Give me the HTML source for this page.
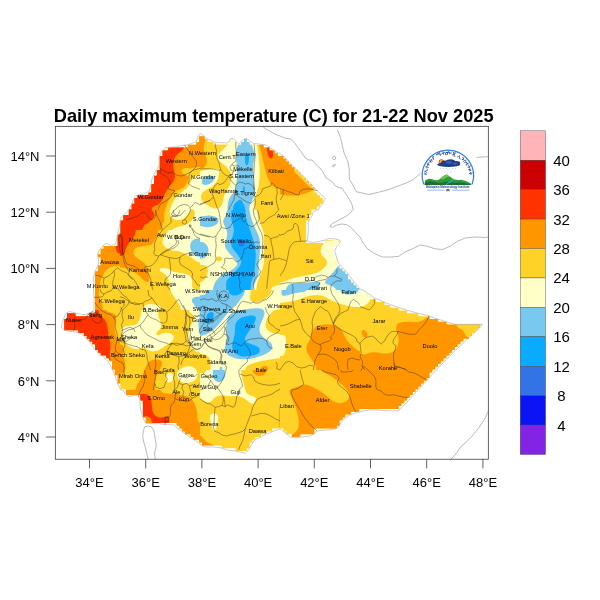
<!DOCTYPE html><html><head><meta charset="utf-8"><title>Daily maximum temperature</title>
<style>html,body{margin:0;padding:0;background:#fff}svg{display:block}text{font-family:"Liberation Sans",sans-serif;fill:#000}</style></head><body>
<svg width="600" height="600" viewBox="0 0 600 600">
<rect width="600" height="600" fill="#fff"/>
<g id="map">
<path d="M100.7,251.6 100.7,254.3 97.9,254.3 97.9,257.2 100.7,257.2 100.7,260.0 100.7,260.0 100.7,262.8 100.7,262.8 100.7,265.6 97.9,265.6 97.9,268.4 97.9,268.4 97.9,271.2 95.1,271.2 95.1,274.0 95.1,274.0 95.1,276.8 95.1,276.9 95.1,279.6 95.1,279.7 95.1,282.4 95.1,282.5 95.1,285.2 95.1,285.3 95.1,288.1 95.1,288.1 95.1,290.9 95.1,290.9 95.1,293.7 95.1,293.7 95.1,296.5 95.1,296.5 95.1,299.3 95.1,299.3 95.1,302.1 95.1,302.1 95.1,304.9 95.1,305.0 95.1,307.7 95.1,307.8 95.1,310.5 95.1,310.6 95.1,313.3 92.3,313.3 92.3,313.3 89.5,313.3 89.5,316.2 86.7,316.2 86.7,316.2 83.9,316.2 83.9,316.2 81.1,316.2 81.1,316.2 78.3,316.2 78.2,316.2 75.5,316.2 75.5,313.3 72.7,313.3 72.6,313.3 69.9,313.3 69.8,313.3 67.0,313.3 67.0,316.2 67.0,316.2 67.0,319.0 64.2,319.0 64.2,321.8 64.2,321.8 64.2,324.6 64.2,324.6 64.2,327.4 64.2,327.4 64.2,330.2 67.0,330.2 67.0,330.2 69.8,330.2 69.9,330.2 72.6,330.2 72.7,330.2 75.4,330.2 75.5,330.2 78.2,330.2 78.2,333.1 81.1,333.1 81.1,333.1 83.9,333.1 83.9,335.9 86.7,335.9 86.7,338.7 89.5,338.7 89.5,341.5 92.3,341.5 92.3,344.3 95.1,344.3 95.1,347.1 95.1,347.1 95.1,349.9 97.9,349.9 97.9,352.7 100.7,352.7 100.7,355.5 103.5,355.5 103.6,355.5 106.3,355.5 106.3,358.3 109.2,358.3 109.2,361.2 112.0,361.2 112.0,363.9 112.0,364.0 112.0,366.7 112.0,366.8 112.0,369.6 114.8,369.6 114.8,372.4 114.8,372.4 114.8,375.2 117.6,375.2 117.6,378.0 117.6,378.0 117.6,380.8 117.6,380.8 117.6,383.6 120.4,383.6 120.4,386.4 120.4,386.4 120.4,389.3 123.2,389.3 123.2,389.3 126.0,389.3 126.0,392.0 126.0,392.1 126.0,394.9 128.8,394.9 128.9,394.9 131.6,394.9 131.7,394.9 134.4,394.9 134.5,394.9 137.3,394.9 137.3,394.9 140.1,394.9 140.1,397.6 140.1,397.7 140.1,400.5 142.9,400.5 142.9,403.3 142.9,403.3 142.9,406.1 142.9,406.1 142.9,408.9 142.9,408.9 142.9,411.7 142.9,411.7 142.9,414.5 142.9,414.5 142.9,417.4 145.7,417.4 145.7,420.1 145.7,420.2 145.7,423.0 148.5,423.0 148.5,423.0 151.3,423.0 151.3,423.0 154.1,423.0 154.2,423.0 156.9,423.0 157.0,423.0 159.7,423.0 159.8,423.0 162.5,423.0 162.6,423.0 165.4,423.0 165.4,423.0 168.2,423.0 168.2,423.0 171.0,423.0 171.0,423.0 173.8,423.0 173.8,423.0 176.6,423.0 176.6,425.8 179.4,425.8 179.4,428.6 182.2,428.6 182.2,431.4 185.0,431.4 185.0,434.2 187.8,434.2 187.9,434.2 190.6,434.2 190.6,437.0 193.5,437.0 193.5,439.8 196.3,439.8 196.3,439.8 199.1,439.8 199.1,442.6 201.9,442.6 201.9,445.4 204.7,445.4 204.7,445.4 207.5,445.4 207.5,445.4 210.3,445.4 210.4,445.4 213.1,445.4 213.2,445.4 215.9,445.4 216.0,445.4 218.7,445.4 218.8,445.4 221.6,445.4 221.6,448.3 224.4,448.3 224.4,448.3 227.2,448.3 227.2,448.3 230.0,448.3 230.0,448.3 232.8,448.3 232.8,448.3 235.6,448.3 235.6,451.1 238.4,451.1 238.5,451.1 241.2,451.1 241.3,451.1 244.0,451.1 244.1,451.1 246.9,451.1 246.9,448.3 249.7,448.3 249.7,445.4 249.7,445.4 249.7,442.6 252.5,442.6 252.5,439.8 255.3,439.8 255.3,437.0 258.1,437.0 258.1,437.0 260.9,437.0 260.9,434.2 263.7,434.2 263.7,434.2 266.6,434.2 266.6,431.4 269.3,431.4 269.4,431.4 272.2,431.4 272.2,428.6 274.9,428.6 275.0,428.6 277.8,428.6 277.8,428.6 280.6,428.6 280.6,428.6 283.4,428.6 283.4,431.4 286.2,431.4 286.2,434.2 289.0,434.2 289.0,434.2 291.8,434.2 291.8,437.0 294.6,437.0 294.7,437.0 297.4,437.0 297.5,437.0 300.3,437.0 300.3,434.2 303.0,434.2 303.1,434.2 305.9,434.2 305.9,434.2 308.7,434.2 308.7,434.2 311.5,434.2 311.5,434.2 314.3,434.2 314.3,431.4 314.3,431.4 314.3,428.6 317.1,428.6 317.1,428.6 319.9,428.6 319.9,428.6 322.7,428.6 322.8,428.6 325.5,428.6 325.6,428.6 328.3,428.6 328.4,428.6 331.1,428.6 331.2,428.6 334.0,428.6 334.0,428.6 336.8,428.6 336.8,425.8 339.6,425.8 339.6,423.0 339.6,422.9 339.6,420.2 342.4,420.2 342.4,417.4 345.2,417.4 345.2,414.5 348.0,414.5 348.0,414.5 350.9,414.5 350.9,411.7 353.6,411.7 353.7,411.7 356.4,411.7 356.5,411.7 359.3,411.7 359.3,408.9 362.1,408.9 362.1,408.9 364.9,408.9 364.9,408.9 367.7,408.9 367.7,408.9 370.5,408.9 370.5,408.9 373.3,408.9 373.3,408.9 376.1,408.9 376.1,408.9 378.9,408.9 379.0,408.9 381.7,408.9 381.8,408.9 384.5,408.9 384.6,408.9 387.3,408.9 387.4,408.9 390.2,408.9 390.2,408.9 393.0,408.9 393.0,408.9 395.8,408.9 395.8,408.9 398.6,408.9 398.6,406.1 401.4,406.1 401.4,403.3 404.2,403.3 404.2,400.5 407.1,400.5 407.1,397.7 409.9,397.7 409.9,394.9 412.7,394.9 412.7,392.1 415.5,392.1 415.5,389.3 418.3,389.3 418.3,386.4 421.1,386.4 421.1,383.6 423.9,383.6 423.9,380.8 426.7,380.8 426.7,378.0 429.5,378.0 429.5,375.2 429.5,375.2 429.5,372.4 432.3,372.4 432.3,369.6 435.2,369.6 435.2,366.8 438.0,366.8 438.0,364.0 440.8,364.0 440.8,361.2 443.6,361.2 443.6,358.3 446.4,358.3 446.4,355.5 449.2,355.5 449.2,352.7 452.0,352.7 452.0,349.9 454.8,349.9 454.8,347.1 457.6,347.1 457.6,344.3 460.4,344.3 460.4,341.5 463.3,341.5 463.3,338.7 466.0,338.7 466.1,338.7 468.9,338.7 468.9,335.9 471.7,335.9 471.7,333.1 474.5,333.1 474.5,330.2 477.3,330.2 477.3,327.4 480.1,327.4 480.1,324.6 477.3,324.6 477.3,324.6 474.5,324.6 474.5,324.6 471.7,324.6 471.6,324.6 468.9,324.6 468.8,324.6 466.1,324.6 466.0,324.6 463.3,324.6 463.2,324.6 460.4,324.6 460.4,324.6 457.6,324.6 457.6,324.6 454.8,324.6 454.8,324.6 452.0,324.6 452.0,324.6 449.2,324.6 449.2,324.6 446.4,324.6 446.4,321.8 443.6,321.8 443.5,321.8 440.8,321.8 440.7,321.8 438.0,321.8 438.0,319.0 435.2,319.0 435.1,319.0 432.3,319.0 432.3,319.0 429.5,319.0 429.5,316.2 426.7,316.2 426.7,316.2 423.9,316.2 423.9,316.2 421.1,316.2 421.1,316.2 418.3,316.2 418.3,313.3 415.5,313.3 415.4,313.3 412.7,313.3 412.6,313.3 409.9,313.3 409.8,313.3 407.1,313.3 407.1,310.5 404.2,310.5 404.2,310.5 401.4,310.5 401.4,310.5 398.6,310.5 398.6,307.7 395.8,307.7 395.8,307.7 393.0,307.7 393.0,307.7 390.2,307.7 390.2,304.9 387.4,304.9 387.3,304.9 384.6,304.9 384.6,302.1 381.8,302.1 381.7,302.1 379.0,302.1 378.9,302.1 376.1,302.1 376.1,299.3 373.3,299.3 373.3,299.3 370.5,299.3 370.5,296.5 367.7,296.5 367.7,293.7 364.9,293.7 364.9,290.9 362.1,290.9 362.1,290.9 359.3,290.9 359.3,288.1 356.5,288.1 356.5,285.2 353.7,285.2 353.7,282.4 350.9,282.4 350.9,279.6 348.0,279.6 348.0,276.9 348.0,276.8 348.0,274.0 345.2,274.0 345.2,271.2 342.4,271.2 342.4,268.4 339.6,268.4 339.6,265.6 336.8,265.6 336.8,262.8 336.8,262.8 336.8,260.0 336.8,260.0 336.8,257.1 334.0,257.1 334.0,254.4 334.0,254.3 334.0,251.6 334.0,251.5 334.0,248.8 334.0,248.7 334.0,245.9 336.8,245.9 336.8,243.1 339.6,243.1 339.6,240.3 336.8,240.3 336.8,240.3 334.0,240.3 334.0,240.3 331.2,240.3 331.1,240.3 328.4,240.3 328.3,240.3 325.5,240.3 325.5,243.1 322.8,243.1 322.7,243.1 319.9,243.1 319.9,243.1 317.1,243.1 317.1,243.1 314.3,243.1 314.3,243.1 311.5,243.1 311.5,243.1 308.7,243.1 308.7,243.1 305.9,243.1 305.9,240.3 305.9,240.3 305.9,237.5 305.9,237.5 305.9,234.7 305.9,234.7 305.9,231.9 305.9,231.9 305.9,229.1 305.9,229.0 305.9,226.3 305.9,226.2 305.9,223.5 305.9,223.4 305.9,220.7 308.7,220.7 308.7,217.8 308.7,217.8 308.7,215.0 311.5,215.0 311.5,212.2 311.5,212.2 311.5,209.4 314.3,209.4 314.3,209.4 317.1,209.4 317.1,206.6 319.9,206.6 319.9,203.8 322.8,203.8 322.8,201.0 322.8,200.9 322.8,198.1 319.9,198.1 319.9,195.3 317.1,195.3 317.1,192.5 314.3,192.5 314.3,189.7 314.3,189.7 314.3,186.9 311.5,186.9 311.5,184.1 308.7,184.1 308.7,181.3 305.9,181.3 305.9,178.5 303.1,178.5 303.1,175.7 300.3,175.7 300.3,172.8 297.5,172.8 297.5,170.0 294.7,170.0 294.7,167.2 291.8,167.2 291.8,164.4 289.0,164.4 289.0,161.6 286.2,161.6 286.2,158.8 283.4,158.8 283.4,156.0 280.6,156.0 280.6,156.0 277.8,156.0 277.8,153.2 275.0,153.2 275.0,150.4 272.2,150.4 272.1,150.4 269.4,150.4 269.4,147.6 266.6,147.6 266.5,147.6 263.7,147.6 263.7,144.7 260.9,144.7 260.9,144.7 258.1,144.7 258.1,144.7 255.3,144.7 255.3,144.7 252.5,144.7 252.5,144.7 249.7,144.7 249.7,141.9 246.9,141.9 246.9,139.1 244.0,139.1 244.0,141.9 241.2,141.9 241.2,144.7 238.5,144.7 238.4,144.7 235.6,144.7 235.6,141.9 232.8,141.9 232.8,139.1 230.0,139.1 230.0,141.9 230.0,142.0 230.0,144.7 227.2,144.7 227.2,144.7 224.4,144.7 224.4,144.7 221.6,144.7 221.6,144.7 218.8,144.7 218.7,144.7 216.0,144.7 215.9,144.7 213.2,144.7 213.2,141.9 210.4,141.9 210.3,141.9 207.5,141.9 207.5,139.1 204.7,139.1 204.7,136.3 201.9,136.3 201.9,136.3 199.1,136.3 199.1,139.1 199.1,139.2 199.1,141.9 196.3,141.9 196.3,144.7 193.5,144.7 193.5,144.7 190.7,144.7 190.6,144.7 187.8,144.7 187.8,147.6 185.1,147.6 185.0,147.6 182.3,147.6 182.2,147.6 179.4,147.6 179.4,147.6 176.6,147.6 176.6,147.6 173.8,147.6 173.8,147.6 171.0,147.6 171.0,147.6 168.2,147.6 168.2,150.4 165.4,150.4 165.4,150.4 162.5,150.4 162.5,153.2 162.5,153.2 162.5,156.0 159.7,156.0 159.7,158.8 159.7,158.8 159.7,161.6 159.7,161.6 159.7,164.4 159.7,164.5 159.7,167.2 159.7,167.3 159.7,170.0 156.9,170.0 156.9,172.8 156.9,172.9 156.9,175.7 154.1,175.7 154.1,178.5 154.1,178.5 154.1,181.3 154.1,181.3 154.1,184.1 151.3,184.1 151.3,186.9 151.3,186.9 151.3,189.7 151.3,189.7 151.3,192.5 148.5,192.5 148.5,195.3 145.7,195.3 145.7,195.3 142.9,195.3 142.9,195.3 140.1,195.3 140.1,195.3 137.3,195.3 137.3,198.1 134.4,198.1 134.4,200.9 134.4,201.0 134.4,203.8 131.6,203.8 131.6,206.6 131.6,206.6 131.6,209.4 128.8,209.4 128.8,212.2 128.8,212.2 128.8,215.0 126.1,215.0 126.0,215.0 123.2,215.0 123.2,217.8 123.2,217.8 123.2,220.6 120.4,220.6 120.4,223.4 120.4,223.5 120.4,226.2 120.4,226.3 120.4,229.0 120.4,229.1 120.4,231.9 120.4,231.9 120.4,234.7 117.6,234.7 117.6,237.5 117.6,237.5 117.6,240.3 117.6,240.3 117.6,243.1 117.6,243.1 117.6,245.9 114.8,245.9 114.8,245.9 112.0,245.9 112.0,245.9 109.2,245.9 109.2,245.9 106.4,245.9 106.3,245.9 103.5,245.9 103.5,248.7 100.7,248.7 100.7,251.5 100.7,251.6Z" fill="#FFD228"/>
<path d="M205.9,165.3 206.3,164.4 206.6,163.5 206.8,162.5 206.9,161.6 206.9,160.6 206.8,159.6 206.7,158.6 206.4,157.6 206.1,156.6 205.8,155.6 205.4,154.6 205.0,153.6 204.6,152.6 204.3,151.6 204.1,150.6 203.9,149.6 203.8,148.6 203.8,147.6 203.9,146.6 204.1,145.6 204.3,144.6 204.6,143.6 204.9,142.7 205.2,141.8 205.5,140.9 205.7,140.0 205.7,139.1 205.7,139.1 204.7,139.1 204.7,137.1 203.8,136.6 202.2,136.3 201.9,136.3 201.9,136.3 199.1,136.3 199.1,139.1 199.1,139.2 199.1,141.9 196.3,141.9 196.3,144.7 193.5,144.7 193.5,144.7 190.7,144.7 190.6,144.7 187.8,144.7 187.8,147.6 185.1,147.6 185.0,147.6 182.3,147.6 182.2,147.6 179.4,147.6 179.4,147.6 176.6,147.6 176.6,147.6 173.8,147.6 173.8,147.6 171.0,147.6 171.0,147.6 168.2,147.6 168.2,150.4 165.4,150.4 165.4,150.4 162.5,150.4 162.5,153.2 162.5,153.2 162.5,156.0 159.7,156.0 159.7,158.8 159.7,158.8 159.7,161.6 159.7,161.6 159.7,164.4 159.7,164.5 159.7,167.2 159.7,167.3 159.7,170.0 156.9,170.0 156.9,172.8 156.9,172.9 156.9,175.7 154.1,175.7 154.1,178.5 154.1,178.5 154.1,181.3 154.1,181.3 154.1,184.1 151.3,184.1 151.3,186.9 151.3,186.9 151.3,189.7 151.3,189.7 151.3,192.5 148.5,192.5 148.5,195.3 145.7,195.3 145.7,195.3 142.9,195.3 142.9,195.3 140.1,195.3 140.1,195.3 137.3,195.3 137.3,198.1 134.4,198.1 134.4,200.9 134.4,201.0 134.4,203.8 131.6,203.8 131.6,206.6 131.6,206.6 131.6,209.4 128.8,209.4 128.8,212.2 128.8,212.2 128.8,215.0 126.1,215.0 126.0,215.0 123.2,215.0 123.2,217.8 123.2,217.8 123.2,220.6 120.4,220.6 120.4,223.4 120.4,223.5 120.4,226.2 120.4,226.3 120.4,229.0 120.4,229.1 120.4,231.9 120.4,231.9 120.4,234.7 117.6,234.7 117.6,237.5 117.6,237.5 117.6,240.3 117.6,240.3 117.6,243.1 117.6,243.1 117.6,245.9 114.8,245.9 114.8,245.9 112.0,245.9 112.0,245.9 109.2,245.9 109.2,245.9 106.4,245.9 106.3,245.9 103.5,245.9 103.5,248.7 100.7,248.7 100.7,251.5 100.7,251.6 100.7,254.3 97.9,254.3 97.9,257.2 100.7,257.2 100.7,260.0 100.7,260.0 100.7,262.8 100.7,262.8 100.7,265.6 97.9,265.6 97.9,268.4 97.9,268.4 97.9,271.2 95.1,271.2 95.1,274.0 95.1,274.0 95.1,276.8 95.1,276.9 95.1,279.6 95.1,279.7 95.1,282.4 95.1,282.5 95.1,285.2 95.1,285.3 95.1,288.1 95.1,288.1 95.1,290.9 95.1,290.9 95.1,293.7 95.1,293.7 95.1,296.5 95.1,296.5 95.1,299.3 95.1,299.3 95.1,302.1 95.1,302.1 95.1,304.9 95.1,305.0 95.1,307.7 95.1,307.8 95.1,310.5 95.1,310.6 95.1,313.3 92.3,313.3 92.3,313.3 89.5,313.3 89.5,316.2 86.7,316.2 86.7,316.2 83.9,316.2 83.9,316.2 81.1,316.2 81.1,316.2 78.3,316.2 78.2,316.2 75.5,316.2 75.5,313.3 72.7,313.3 72.6,313.3 69.9,313.3 69.8,313.3 67.0,313.3 67.0,316.2 67.0,316.2 67.0,319.0 64.2,319.0 64.2,321.8 64.2,321.8 64.2,324.6 64.2,324.6 64.2,327.4 64.2,327.4 64.2,330.2 67.0,330.2 67.0,330.2 69.8,330.2 69.9,330.2 72.6,330.2 72.7,330.2 75.4,330.2 75.5,330.2 78.2,330.2 78.2,333.1 81.1,333.1 81.1,333.1 83.9,333.1 83.9,335.9 86.7,335.9 86.7,338.7 89.5,338.7 89.5,341.5 92.3,341.5 92.3,344.3 95.1,344.3 95.1,347.1 95.1,347.1 95.1,349.9 97.9,349.9 97.9,352.7 100.7,352.7 100.7,355.5 103.5,355.5 103.6,355.5 106.3,355.5 106.3,358.3 109.2,358.3 109.2,361.2 112.0,361.2 112.0,363.9 112.0,364.0 112.0,366.7 112.0,366.8 112.0,369.6 114.8,369.6 114.8,372.4 114.8,372.4 114.8,375.2 117.6,375.2 117.6,378.0 117.6,378.0 117.6,380.8 117.6,380.8 117.6,383.6 120.0,383.6 120.0,373.9 120.9,373.8 122.3,373.5 123.0,373.2 123.6,372.7 124.1,372.0 124.6,371.2 125.0,370.2 125.3,369.1 125.5,367.9 125.5,366.7 125.4,365.3 125.3,364.0 125.1,362.7 124.8,361.3 124.5,360.0 124.2,358.7 124.0,357.3 123.8,356.0 123.6,354.7 123.5,353.3 123.5,352.0 123.5,350.7 123.6,349.3 123.5,348.1 123.4,347.0 123.1,346.1 122.7,345.2 121.3,344.6 120.0,344.3 120.0,340.0 119.0,339.6 117.7,338.8 117.3,337.9 116.9,337.1 116.5,336.2 116.2,335.4 115.8,334.6 115.5,333.7 115.3,332.8 115.1,331.8 114.9,330.8 114.8,329.7 114.7,328.7 114.7,327.6 114.7,326.5 114.7,325.5 114.8,324.6 114.9,323.7 115.1,322.9 115.3,322.1 115.5,321.3 115.7,320.4 115.9,319.6 116.1,318.7 116.1,317.9 116.1,317.0 115.9,316.2 115.7,315.5 115.3,314.8 114.8,314.3 114.2,313.9 113.5,313.6 112.7,313.2 111.8,312.9 110.8,312.6 109.7,312.2 108.7,311.9 107.8,311.4 106.8,311.0 106.2,310.0 103.2,310.0 103.2,309.7 102.7,307.0 102.2,305.2 101.8,304.2 101.3,303.1 100.9,302.0 100.4,300.9 100.0,299.8 99.6,298.6 99.3,297.4 99.1,296.2 98.9,295.1 98.8,293.9 98.8,292.8 98.8,291.6 98.8,290.4 99.0,289.2 99.1,288.1 99.3,286.9 99.6,285.8 99.8,284.6 100.1,283.5 100.2,282.5 100.4,281.5 100.7,280.5 101.0,279.5 101.4,278.5 101.9,277.5 102.4,276.5 102.9,275.5 103.4,274.5 103.9,273.5 104.5,272.5 105.0,271.6 105.7,270.8 106.3,269.9 107.1,269.2 107.9,268.5 108.8,267.9 109.8,267.4 110.9,267.0 112.0,266.6 113.1,266.3 114.2,266.1 116.2,265.9 119.1,265.7 120.0,265.7 120.0,267.6 122.4,267.8 124.2,268.0 125.2,268.3 126.2,268.6 127.2,268.9 128.2,269.2 129.2,269.5 130.2,269.9 131.2,270.4 132.2,270.9 133.2,271.5 134.2,272.1 135.2,272.8 136.2,273.5 137.2,274.2 138.1,275.0 139.0,275.8 139.9,276.6 140.8,277.4 141.6,278.2 142.4,279.0 143.2,279.7 144.1,280.3 144.9,280.9 145.7,281.3 146.4,281.7 147.2,281.9 147.8,281.9 148.3,281.8 148.7,281.4 148.9,280.9 149.1,280.1 149.1,279.3 149.1,278.2 148.9,277.1 148.7,275.9 148.5,274.8 148.3,273.6 148.1,272.4 147.8,271.3 147.6,270.2 147.3,269.2 147.1,268.2 146.7,267.2 146.4,266.3 145.9,265.4 145.4,264.6 144.8,263.8 144.2,263.1 143.4,262.4 142.6,261.8 141.8,261.2 140.9,260.7 140.1,260.1 139.2,259.5 138.4,258.9 137.6,258.4 136.8,257.8 136.1,257.2 135.4,256.6 134.8,256.0 134.3,255.2 133.9,254.5 133.7,253.7 133.6,252.9 133.6,252.1 133.8,251.2 134.0,250.5 134.5,249.7 135.0,249.0 135.7,248.3 136.5,247.8 137.4,247.3 138.4,246.9 139.6,246.7 140.8,246.4 142.0,246.2 143.3,246.1 144.7,245.9 146.0,245.8 147.2,245.6 148.4,245.4 149.6,245.2 150.6,244.9 151.5,244.4 152.2,243.8 152.8,243.1 153.3,242.3 153.9,241.4 154.4,240.5 154.9,239.5 155.5,238.5 156.0,237.5 156.6,236.5 157.2,235.5 157.7,233.6 158.2,230.9 158.4,230.0 161.3,230.0 161.5,229.0 162.2,225.6 162.9,223.4 163.5,222.4 163.9,221.3 164.1,220.2 164.1,219.0 163.9,217.7 163.9,216.5 163.9,215.2 164.0,214.0 164.3,212.7 164.6,211.5 164.9,210.2 165.3,209.0 165.7,207.7 166.1,206.5 166.6,205.2 167.1,204.0 167.6,202.7 168.1,201.5 168.8,200.2 169.5,199.0 170.2,197.7 171.0,196.5 171.8,195.4 172.6,194.4 173.4,193.4 174.3,192.6 175.1,191.8 176.0,191.1 177.0,190.5 178.0,190.0 179.0,189.5 180.2,189.0 181.5,188.6 182.6,188.1 183.6,187.4 184.5,186.6 185.2,185.6 185.9,184.6 186.5,183.5 187.1,182.3 187.6,181.0 187.9,179.9 188.1,178.9 188.2,177.9 188.1,177.1 187.8,176.4 187.3,175.8 186.6,175.4 185.6,175.1 184.7,174.7 183.9,174.2 183.1,173.5 182.4,172.8 181.9,172.0 181.7,171.3 181.8,170.5 182.1,169.8 182.5,169.2 183.1,168.7 183.8,168.3 184.6,168.0 185.5,167.9 186.6,167.9 187.7,168.0 189.0,168.3 190.2,168.4 191.4,168.3 192.5,168.0 193.6,167.6 195.9,167.2 199.2,166.8 200.0,166.7 200.0,168.6 201.9,168.3 203.5,167.9 204.2,167.4 204.9,166.8 205.4,166.1 205.9,165.3ZM256.8,375.2 257.8,375.5 258.8,375.7 259.8,375.8 260.8,375.8 261.8,375.6 262.8,375.3 263.6,374.9 264.3,374.4 265.0,373.8 265.5,372.3 265.9,370.0 252.8,370.0 253.1,371.8 253.7,373.2 254.3,373.8 255.1,374.3 255.9,374.8 256.8,375.2ZM156.0,377.6 156.4,376.4 156.9,375.3 157.4,374.2 157.9,373.2 158.5,372.2 159.0,371.2 159.6,370.2 160.1,369.2 160.6,368.2 161.0,367.2 161.4,366.2 161.7,365.2 162.0,364.2 162.1,363.3 162.0,362.5 161.8,361.8 161.3,361.2 160.8,360.8 160.2,360.3 159.4,360.0 158.6,359.7 157.7,359.6 156.7,359.4 155.6,359.4 154.4,359.5 153.3,359.7 152.2,360.0 151.2,360.5 150.2,361.1 149.2,361.8 148.4,362.6 147.7,363.5 147.0,364.5 146.4,365.6 145.8,366.8 145.2,368.0 144.8,369.3 144.2,370.7 143.8,372.0 143.2,373.3 142.8,374.7 142.2,376.0 141.6,377.2 141.0,378.4 140.3,379.6 139.6,380.8 138.9,381.9 138.1,383.1 137.2,384.2 136.5,386.2 135.7,389.1 135.5,390.0 126.0,390.0 126.0,392.0 126.0,392.1 126.0,394.9 128.8,394.9 128.9,394.9 131.6,394.9 131.7,394.9 134.4,394.9 134.5,394.9 137.3,394.9 137.3,394.9 140.1,394.9 140.1,397.6 140.1,397.7 140.1,400.5 142.9,400.5 142.9,403.3 142.9,403.3 142.9,406.1 142.9,406.1 142.9,408.9 142.9,408.9 142.9,411.7 142.9,411.7 142.9,414.5 142.9,414.5 142.9,417.4 145.7,417.4 145.7,420.1 145.7,420.2 145.7,423.0 148.5,423.0 148.5,423.0 151.3,423.0 151.3,423.0 154.1,423.0 154.2,423.0 156.9,423.0 157.0,423.0 159.7,423.0 159.8,423.0 162.5,423.0 162.6,423.0 165.4,423.0 165.4,423.0 168.2,423.0 168.2,423.0 171.0,423.0 171.0,423.0 173.8,423.0 173.8,423.0 176.6,423.0 176.6,425.8 179.4,425.8 179.4,428.6 182.2,428.6 182.2,431.4 185.0,431.4 185.0,434.2 187.8,434.2 187.9,434.2 190.6,434.2 190.6,437.0 193.5,437.0 193.5,439.8 196.3,439.8 196.3,439.8 199.1,439.8 199.1,442.6 201.9,442.6 201.9,445.4 204.7,445.4 204.7,445.4 207.5,445.4 207.5,445.4 210.3,445.4 210.4,445.4 213.1,445.4 213.2,445.4 213.3,445.4 213.2,444.8 212.2,444.5 211.2,444.1 210.2,443.7 209.2,443.2 208.2,442.8 207.2,442.2 206.3,441.5 205.4,440.8 204.6,439.9 203.8,439.1 203.2,438.2 202.6,437.4 202.1,436.6 200.8,435.8 200.0,435.5 200.0,422.9 199.9,422.9 198.7,422.3 198.2,421.7 197.9,420.8 197.7,419.8 197.5,418.7 197.4,417.3 197.3,416.0 197.2,414.7 197.1,413.3 196.9,412.0 196.7,410.7 196.5,409.5 196.2,408.2 195.8,407.1 195.5,406.0 195.0,404.9 194.6,403.8 194.1,402.8 193.5,401.9 193.0,401.0 192.3,400.1 191.7,399.2 190.9,398.5 190.1,397.8 189.2,397.2 188.2,396.8 187.2,396.4 186.2,396.1 185.2,395.9 184.2,395.8 183.2,395.6 182.2,395.4 181.2,395.2 180.2,395.0 179.2,394.8 178.3,394.6 177.4,394.3 176.6,394.1 175.7,393.9 174.7,393.8 173.6,393.8 172.4,393.9 171.2,393.9 170.0,393.9 168.7,393.8 167.3,393.6 166.0,393.4 164.7,393.1 163.3,392.7 162.0,392.2 160.8,390.9 160.3,390.0 154.9,390.0 154.8,388.0 154.8,384.9 154.9,382.7 155.1,381.3 155.3,380.0 155.6,378.8 156.0,377.6ZM260.2,149.3 260.6,150.7 261.0,152.0 261.4,153.3 261.7,154.7 262.0,156.0 262.3,157.3 262.6,158.7 262.9,160.0 263.2,161.3 263.5,162.7 263.8,164.0 264.2,165.3 264.5,166.7 264.8,168.0 265.2,169.3 265.5,170.7 265.8,172.0 266.2,173.3 266.5,174.6 267.0,175.9 267.4,177.1 267.9,178.2 268.5,179.4 269.0,180.6 269.7,181.8 270.3,182.9 271.0,184.0 271.8,184.9 272.6,185.7 273.4,186.3 274.2,186.9 275.1,187.4 275.9,187.8 276.8,188.2 278.4,188.5 280.0,188.6 280.0,194.2 280.9,194.3 283.6,194.7 285.5,195.0 286.5,195.2 287.6,195.4 288.8,195.5 290.0,195.6 291.3,195.6 292.7,195.6 294.0,195.5 295.3,195.4 296.7,195.3 298.0,195.1 299.3,194.9 300.7,194.7 302.0,194.4 303.3,194.1 304.5,193.8 305.8,193.4 306.9,193.0 308.0,192.6 309.0,192.1 309.9,191.5 310.8,190.9 311.6,190.3 312.3,189.6 313.1,188.9 313.8,188.2 314.3,188.0 314.3,186.9 311.5,186.9 311.5,184.1 308.7,184.1 308.7,181.3 305.9,181.3 305.9,178.5 303.1,178.5 303.1,175.7 300.3,175.7 300.3,172.8 297.5,172.8 297.5,170.0 294.7,170.0 294.7,167.2 291.8,167.2 291.8,164.4 289.0,164.4 289.0,161.6 286.2,161.6 286.2,158.8 283.4,158.8 283.4,156.0 280.6,156.0 280.6,156.0 277.8,156.0 277.8,153.2 275.0,153.2 275.0,150.4 272.2,150.4 272.1,150.4 269.4,150.4 269.4,147.6 266.6,147.6 266.5,147.6 263.7,147.6 263.7,144.7 260.9,144.7 260.9,144.7 259.1,144.7 259.2,145.3 259.5,146.7 259.9,148.0 260.2,149.3ZM427.9,317.3 425.7,317.9 425.0,318.8 424.2,319.5 423.4,320.1 422.5,320.6 421.5,321.1 420.4,321.4 419.2,321.7 418.0,321.8 416.7,321.9 415.3,321.9 414.0,321.9 412.7,321.9 411.3,321.8 410.0,321.8 408.7,321.8 407.3,321.8 406.0,321.9 404.7,322.0 403.5,322.1 402.2,322.2 401.1,322.4 400.0,322.7 399.1,323.1 398.3,323.5 397.7,324.1 397.1,324.7 396.7,325.5 396.4,326.3 396.2,327.3 396.2,328.2 396.3,329.2 396.5,330.2 396.8,331.2 397.1,332.2 397.4,333.2 397.7,334.2 398.0,335.2 398.2,336.2 398.4,337.3 398.5,338.4 398.6,339.6 398.6,340.7 398.5,341.8 398.4,342.8 398.2,343.8 398.0,344.8 397.7,345.7 397.4,346.6 396.9,347.4 396.4,348.2 395.8,349.0 395.2,349.8 394.4,350.5 393.6,351.2 392.8,351.7 391.8,352.2 390.8,352.7 389.8,353.0 388.6,353.3 387.3,353.5 386.0,353.6 384.7,353.6 383.3,353.5 382.0,353.3 380.7,353.1 379.3,352.8 378.0,352.6 376.7,352.4 375.3,352.2 374.1,352.2 372.9,352.2 371.8,352.4 370.8,352.6 369.8,352.9 368.8,353.2 367.8,353.6 366.8,354.0 365.8,354.3 364.8,354.4 363.8,354.4 362.8,354.2 361.1,354.0 360.0,353.9 360.0,351.2 359.0,351.0 357.4,350.3 356.6,349.7 355.8,349.0 354.9,348.3 354.1,347.7 353.2,347.0 352.4,346.3 351.6,345.5 350.8,344.8 349.9,343.9 349.1,343.0 348.4,342.1 347.7,341.2 347.0,340.2 346.4,339.2 345.8,338.2 345.2,337.2 344.8,336.2 344.2,335.2 343.8,334.2 343.2,333.2 342.8,332.2 342.2,331.2 341.5,330.3 340.8,329.4 339.9,328.6 339.0,327.8 338.1,327.2 337.2,326.6 336.2,326.1 335.2,325.6 334.2,325.3 333.2,325.0 332.2,324.8 331.1,324.6 329.9,324.5 328.7,324.4 327.3,324.4 326.0,324.4 324.7,324.5 323.3,324.6 322.0,324.7 320.8,324.9 319.6,325.1 318.5,325.4 317.5,325.8 316.6,326.2 315.8,326.8 315.0,327.4 314.3,328.2 313.7,329.0 313.2,329.9 312.7,330.8 312.3,331.8 312.0,332.9 311.6,334.0 311.3,335.1 311.1,336.2 310.7,337.4 310.4,338.5 309.9,339.5 309.4,340.5 308.9,341.5 308.4,342.5 307.9,343.5 307.4,344.5 307.0,345.5 306.7,346.5 306.6,347.5 306.5,348.5 306.6,349.5 306.7,350.5 307.0,351.5 307.4,352.5 307.9,353.5 308.4,354.5 309.0,355.5 309.7,356.5 310.3,357.5 311.0,358.5 311.7,359.5 312.3,360.5 313.0,361.5 313.7,362.5 314.3,363.5 315.0,364.5 315.7,366.4 316.3,369.1 316.5,370.0 321.8,370.0 322.2,370.8 323.3,372.2 324.7,372.8 326.0,373.4 327.2,374.1 328.4,374.7 329.6,375.4 330.8,376.1 331.9,376.8 333.1,377.6 334.2,378.4 335.4,379.2 336.6,380.1 337.8,381.0 338.9,381.9 340.0,382.9 341.1,383.9 342.2,384.8 343.2,385.8 344.1,386.8 345.0,387.8 345.9,388.8 346.8,389.8 347.5,390.8 348.1,391.8 348.6,392.8 349.0,393.8 349.2,394.8 349.3,395.8 349.2,396.7 349.0,397.7 348.6,398.6 348.1,399.4 347.4,400.2 346.6,400.9 345.7,401.5 344.7,402.1 343.6,402.5 342.4,402.8 341.2,403.0 340.1,403.1 338.9,403.1 337.8,402.9 336.6,402.6 335.4,402.2 334.2,401.7 333.1,401.0 331.9,400.2 330.8,399.4 329.6,398.5 328.4,397.5 327.2,396.5 326.0,395.5 324.7,394.5 323.3,393.5 322.0,392.5 320.7,391.6 319.3,390.8 318.0,389.9 316.7,389.1 315.3,388.4 314.0,387.7 312.7,387.0 311.4,386.4 310.1,385.9 308.9,385.4 307.8,385.0 306.6,384.7 305.5,384.6 304.5,384.6 303.5,384.7 302.5,384.9 301.5,385.2 300.5,385.6 299.5,386.0 298.5,386.4 297.4,386.8 296.2,387.2 295.1,387.5 294.0,387.9 292.9,388.3 291.8,388.8 290.8,389.2 290.1,389.8 289.6,390.4 289.4,391.0 289.5,391.7 289.7,392.4 289.9,393.2 290.2,394.2 290.7,395.2 291.1,396.2 291.6,397.4 292.1,398.7 292.6,400.0 293.1,401.3 293.7,402.7 294.2,404.0 294.8,405.3 295.4,406.7 295.9,408.0 296.3,409.3 296.7,410.7 297.1,412.0 297.4,413.3 297.7,414.7 298.0,416.0 298.2,417.3 298.4,418.7 298.6,420.0 298.7,421.3 298.8,422.6 298.9,423.8 298.8,424.8 298.8,425.8 298.6,426.8 298.3,427.8 297.9,428.8 297.4,429.8 296.8,430.8 296.2,431.6 295.4,432.3 294.6,433.0 293.7,433.6 292.8,434.2 291.8,434.8 291.8,434.8 291.8,437.0 294.6,437.0 294.7,437.0 297.4,437.0 297.5,437.0 300.3,437.0 300.3,434.2 303.0,434.2 303.1,434.2 305.9,434.2 305.9,434.2 308.7,434.2 308.7,434.2 311.5,434.2 311.5,434.2 314.3,434.2 314.3,431.4 314.3,431.4 314.3,428.6 317.1,428.6 317.1,428.6 319.9,428.6 319.9,428.6 322.7,428.6 322.8,428.6 325.5,428.6 325.6,428.6 328.3,428.6 328.4,428.6 331.1,428.6 331.2,428.6 334.0,428.6 334.0,428.6 336.8,428.6 336.8,425.8 339.6,425.8 339.6,423.0 339.6,422.9 339.6,420.2 342.4,420.2 342.4,417.4 345.2,417.4 345.2,414.5 348.0,414.5 348.0,414.5 350.9,414.5 350.9,411.7 353.6,411.7 353.7,411.7 356.4,411.7 356.5,411.7 359.3,411.7 359.3,408.9 362.1,408.9 362.1,408.9 364.9,408.9 364.9,408.9 367.7,408.9 367.7,408.9 370.5,408.9 370.5,408.9 373.3,408.9 373.3,408.9 376.1,408.9 376.1,408.9 378.9,408.9 379.0,408.9 381.7,408.9 381.8,408.9 384.5,408.9 384.6,408.9 387.3,408.9 387.4,408.9 390.2,408.9 390.2,408.9 393.0,408.9 393.0,408.9 395.8,408.9 395.8,408.9 398.6,408.9 398.6,406.1 401.4,406.1 401.4,403.3 404.2,403.3 404.2,400.5 407.1,400.5 407.1,397.7 409.9,397.7 409.9,394.9 412.7,394.9 412.7,392.1 415.5,392.1 415.5,389.3 418.3,389.3 418.3,386.4 421.1,386.4 421.1,383.6 423.9,383.6 423.9,380.8 426.7,380.8 426.7,378.0 429.5,378.0 429.5,375.2 429.5,375.2 429.5,372.4 432.3,372.4 432.3,369.6 435.2,369.6 435.2,366.8 438.0,366.8 438.0,364.0 440.8,364.0 440.8,361.2 443.6,361.2 443.6,358.3 446.4,358.3 446.4,355.5 449.2,355.5 449.2,352.7 452.0,352.7 452.0,349.9 454.8,349.9 454.8,347.1 457.6,347.1 457.6,344.3 460.4,344.3 460.4,341.5 463.3,341.5 463.3,338.7 466.0,338.7 466.1,338.7 468.9,338.7 468.9,335.9 471.7,335.9 471.7,333.1 474.5,333.1 474.5,330.2 477.3,330.2 477.3,327.4 480.1,327.4 480.1,324.6 477.3,324.6 477.3,324.6 474.5,324.6 474.5,324.6 471.7,324.6 471.6,324.6 468.9,324.6 468.8,324.6 466.1,324.6 466.0,324.6 463.3,324.6 463.2,324.6 460.4,324.6 460.4,324.6 457.6,324.6 457.6,324.6 454.8,324.6 454.8,324.6 452.0,324.6 452.0,324.6 449.2,324.6 449.2,324.6 446.4,324.6 446.4,321.8 443.6,321.8 443.5,321.8 440.8,321.8 440.7,321.8 438.0,321.8 438.0,319.0 435.2,319.0 435.1,319.0 432.3,319.0 432.3,319.0 429.5,319.0 429.5,317.1 427.9,317.3ZM363.2,336.2 363.7,336.8 364.3,337.2 364.8,337.6 365.3,337.8 365.8,337.8 366.2,337.6 366.6,337.3 367.0,336.9 367.2,336.3 367.4,335.7 367.5,335.0 367.4,334.2 367.1,333.4 366.6,332.6 366.2,331.9 365.7,331.2 365.1,330.7 364.6,330.3 364.0,330.1 363.5,330.0 362.9,330.1 362.4,330.3 362.0,330.7 361.7,331.1 361.6,331.7 361.6,332.3 361.7,333.0 361.9,333.7 362.1,334.3 362.4,335.0 362.8,335.6 363.2,336.2ZM279.3,423.5 279.4,425.3 279.5,426.7 280.0,427.2 280.0,405.2 279.5,405.8 279.4,407.5 279.3,409.6 279.2,412.1 279.2,415.0 279.2,418.3 279.2,421.2 279.3,423.5Z" fill="#FF9600" fill-rule="evenodd"/>
<path d="M267.8,154.2 268.2,155.2 268.5,156.0 269.0,156.8 269.4,157.4 269.9,157.9 270.4,158.2 270.9,158.4 271.4,158.4 271.9,158.2 272.3,157.9 272.6,157.3 272.8,156.5 272.9,155.5 273.0,154.5 273.0,153.5 272.9,152.5 272.8,151.5 272.6,150.6 272.5,150.4 272.2,150.4 272.1,150.4 269.4,150.4 269.4,147.6 267.7,147.6 267.5,147.7 267.0,148.3 266.9,149.3 267.1,150.7 267.3,151.9 267.5,153.1 267.8,154.2ZM115.5,246.0 115.5,247.1 115.7,248.2 115.9,249.2 116.2,250.1 116.6,251.0 117.1,251.9 117.6,252.8 119.0,253.5 120.0,253.8 120.0,255.9 120.5,255.9 122.9,255.3 124.2,254.5 124.6,253.5 124.9,252.5 125.2,251.5 125.4,250.5 125.7,249.5 126.0,248.5 126.3,247.5 126.8,246.5 127.2,245.5 127.8,244.5 128.4,243.6 129.0,242.8 129.7,241.9 130.3,241.1 131.0,240.2 131.7,239.4 132.3,238.6 133.0,237.7 133.6,236.8 134.2,235.8 134.8,234.8 135.4,233.0 135.8,230.3 135.9,230.0 142.2,230.0 142.2,229.9 143.4,226.8 144.5,225.0 145.8,224.3 147.0,223.6 148.3,222.7 149.5,221.8 150.8,220.7 151.9,219.7 152.8,218.6 153.5,217.6 154.1,216.6 154.4,215.6 154.5,214.6 154.2,213.8 153.8,212.9 153.3,212.1 152.8,211.2 152.4,210.3 152.0,209.4 151.9,208.5 152.1,207.8 152.7,207.1 153.6,206.4 154.5,205.9 155.5,205.5 156.4,205.2 157.3,205.0 158.2,204.5 159.2,203.8 160.2,202.8 161.2,201.5 162.0,200.2 162.8,198.9 163.4,197.5 163.9,196.0 164.5,194.5 165.3,192.9 166.2,191.3 167.2,189.7 168.2,188.2 169.2,186.8 170.2,185.6 171.2,184.6 172.1,183.5 172.9,182.3 173.5,181.1 174.1,179.9 174.5,178.6 174.8,177.4 174.9,176.1 174.8,174.9 174.6,173.6 174.4,172.4 174.2,171.1 173.8,169.9 173.6,168.5 173.4,167.1 173.4,165.5 173.4,163.8 173.6,162.3 173.8,160.8 174.2,159.5 174.6,158.2 175.2,157.1 175.8,156.0 176.6,155.1 177.4,154.2 178.3,153.4 179.3,152.6 180.4,151.8 181.6,150.9 182.5,150.0 183.3,148.9 183.8,147.8 183.9,147.6 182.3,147.6 182.2,147.6 179.4,147.6 179.4,147.6 176.6,147.6 176.6,147.6 173.8,147.6 173.8,147.6 171.0,147.6 171.0,147.6 168.2,147.6 168.2,150.4 165.4,150.4 165.4,150.4 162.5,150.4 162.5,153.2 162.5,153.2 162.5,156.0 159.7,156.0 159.7,158.8 159.7,158.8 159.7,161.6 159.7,161.6 159.7,164.4 159.7,164.5 159.7,167.2 159.7,167.3 159.7,170.0 156.9,170.0 156.9,172.8 156.9,172.9 156.9,175.7 154.1,175.7 154.1,178.5 154.1,178.5 154.1,181.3 154.1,181.3 154.1,184.1 151.3,184.1 151.3,186.9 151.3,186.9 151.3,189.7 151.3,189.7 151.3,192.5 148.5,192.5 148.5,195.3 145.7,195.3 145.7,195.3 142.9,195.3 142.9,195.3 140.1,195.3 140.1,195.3 137.3,195.3 137.3,198.1 134.4,198.1 134.4,200.9 134.4,201.0 134.4,203.8 131.6,203.8 131.6,206.6 131.6,206.6 131.6,209.4 128.8,209.4 128.8,212.2 128.8,212.2 128.8,215.0 126.1,215.0 126.0,215.0 123.2,215.0 123.2,217.8 123.2,217.8 123.2,220.6 120.4,220.6 120.4,223.4 120.4,223.5 120.4,226.2 120.4,226.3 120.4,229.0 120.4,229.1 120.4,231.9 120.4,231.9 120.4,234.7 117.6,234.7 117.6,237.5 117.6,237.5 117.6,240.3 117.6,240.3 117.6,243.1 117.6,243.1 117.6,245.9 115.5,245.9 115.5,246.0ZM110.2,358.7 110.0,357.3 109.8,356.0 109.8,354.7 109.8,353.3 110.0,352.0 110.1,350.7 110.2,349.3 110.4,348.0 110.5,346.7 110.5,345.5 110.4,344.2 110.2,343.1 110.0,341.9 109.8,340.8 109.5,339.6 109.2,338.4 108.9,337.2 108.6,336.0 108.4,334.7 108.2,333.3 108.1,332.0 107.9,330.7 107.8,329.3 107.6,328.0 107.4,326.7 107.1,325.5 106.8,324.2 106.5,323.1 106.0,322.0 105.5,320.9 104.8,319.8 103.9,318.8 103.0,317.8 102.1,316.8 101.2,315.8 100.2,314.8 99.2,313.0 98.3,310.3 98.2,310.0 95.1,310.0 95.1,310.5 95.1,310.6 95.1,313.3 92.3,313.3 92.3,313.3 89.5,313.3 89.5,316.2 86.7,316.2 86.7,316.2 83.9,316.2 83.9,316.2 81.1,316.2 81.1,316.2 78.3,316.2 78.2,316.2 75.5,316.2 75.5,313.3 72.7,313.3 72.6,313.3 69.9,313.3 69.8,313.3 67.0,313.3 67.0,316.2 67.0,316.2 67.0,319.0 64.2,319.0 64.2,321.8 64.2,321.8 64.2,324.6 64.2,324.6 64.2,327.4 64.2,327.4 64.2,330.2 67.0,330.2 67.0,330.2 69.8,330.2 69.9,330.2 72.6,330.2 72.7,330.2 75.4,330.2 75.5,330.2 78.2,330.2 78.2,333.1 81.1,333.1 81.1,333.1 83.9,333.1 83.9,335.9 86.7,335.9 86.7,338.7 89.5,338.7 89.5,341.5 92.3,341.5 92.3,344.3 95.1,344.3 95.1,347.1 95.1,347.1 95.1,349.9 97.9,349.9 97.9,352.7 100.7,352.7 100.7,355.5 103.5,355.5 103.6,355.5 106.3,355.5 106.3,358.3 109.2,358.3 109.2,360.3 110.7,360.0 110.2,358.7ZM142.9,413.2 143.0,414.3 143.1,415.2 143.2,416.1 143.4,416.6 143.7,416.9 144.1,416.8 144.6,416.5 145.2,416.3 145.8,416.2 146.6,416.2 147.4,416.4 148.2,416.7 149.0,417.0 149.7,417.4 150.3,417.9 150.9,418.7 151.3,419.7 151.6,420.9 151.8,422.4 152.3,423.0 154.1,423.0 154.2,423.0 156.9,423.0 157.0,423.0 159.7,423.0 159.8,423.0 162.5,423.0 162.6,423.0 165.4,423.0 165.4,423.0 168.2,423.0 168.2,423.0 169.1,423.0 169.2,422.9 169.2,421.8 169.2,420.7 169.2,419.7 169.1,418.8 168.9,417.9 168.6,417.3 168.1,416.9 167.4,416.7 166.6,416.7 165.8,416.7 164.9,416.9 164.1,417.1 163.2,417.3 162.4,417.5 161.5,417.6 160.5,417.6 159.5,417.5 158.5,417.3 157.6,417.0 156.8,416.6 155.9,416.1 155.2,415.5 154.5,414.8 153.9,414.1 153.4,413.2 153.0,412.4 152.7,411.5 152.4,410.5 152.2,409.5 152.1,408.5 152.0,407.4 151.9,406.2 151.8,405.1 151.7,403.9 151.6,402.8 151.4,401.6 151.2,400.4 150.9,399.3 150.6,398.3 150.1,397.4 149.5,396.6 148.8,395.9 148.1,395.2 147.2,394.7 146.2,394.3 145.2,394.1 144.2,393.9 143.2,393.8 142.2,393.9 141.2,394.1 140.4,394.4 139.7,394.8 139.5,394.9 140.1,394.9 140.1,397.6 140.1,397.7 140.1,399.4 140.3,399.9 140.7,400.5 142.9,400.5 142.9,403.3 142.9,403.3 142.9,406.1 142.9,406.1 142.9,408.9 142.9,408.9 142.9,411.7 142.9,411.7 142.9,412.6 142.9,413.2Z" fill="#FF3200" fill-rule="evenodd"/>
<path d="M191.6,180.5 190.9,181.6 190.3,182.8 189.7,183.8 189.1,184.9 188.4,185.9 187.7,186.9 186.9,187.9 185.9,188.8 184.9,189.6 183.9,190.4 182.8,191.2 181.8,192.1 180.7,192.9 179.7,193.8 178.6,194.7 177.6,195.7 176.6,196.8 175.6,197.9 174.8,199.0 174.1,200.2 173.4,201.5 172.8,202.7 172.2,204.0 171.7,205.2 171.1,206.5 170.7,207.7 170.3,208.8 170.0,209.9 169.7,210.9 169.6,212.0 169.6,213.0 169.8,214.1 170.1,215.1 170.5,216.1 171.1,216.9 171.9,217.7 172.8,218.4 173.8,219.0 174.9,219.5 176.0,219.8 177.3,220.0 178.5,220.1 179.8,220.0 181.0,219.7 182.3,219.3 183.4,218.8 184.5,218.1 185.4,217.4 186.2,216.6 187.0,215.7 187.8,214.8 188.4,213.8 189.1,212.7 189.6,211.8 190.0,211.1 190.4,210.5 190.6,210.1 190.9,209.8 191.3,209.5 191.8,209.3 192.2,209.2 192.7,209.2 193.2,209.4 193.6,209.8 193.9,210.2 194.2,210.8 194.5,211.4 194.6,212.1 194.7,212.9 194.7,213.6 194.7,214.4 194.5,215.1 194.3,215.9 194.0,216.6 193.7,217.4 193.2,218.1 192.8,218.9 192.2,219.6 191.7,220.3 191.1,220.9 190.4,221.6 189.8,222.2 189.1,222.7 188.4,223.2 187.6,223.8 186.8,224.2 186.0,224.6 185.2,224.9 184.3,225.1 183.4,225.4 182.5,225.6 181.5,225.9 180.5,226.1 179.5,226.4 178.5,226.7 177.5,227.1 176.5,227.4 175.5,227.8 174.6,228.3 173.7,228.8 172.8,229.2 172.5,230.0 168.1,230.0 167.6,231.6 166.8,233.2 165.9,234.1 165.2,235.0 164.5,235.9 163.9,236.8 163.4,237.8 163.0,238.8 162.7,239.8 162.6,240.8 162.5,241.8 162.6,242.8 162.8,243.7 163.2,244.6 163.8,245.4 164.5,246.2 165.3,247.0 166.2,247.7 167.2,248.3 168.2,248.9 169.3,249.4 170.4,249.8 171.6,250.2 172.8,250.4 174.0,250.7 175.3,250.8 176.7,250.9 177.9,251.1 179.1,251.3 180.2,251.7 181.2,252.1 182.2,252.5 183.2,252.9 184.2,253.4 185.2,253.9 186.2,254.5 187.2,255.0 188.2,255.7 189.2,256.3 190.2,257.0 191.2,257.7 192.2,258.3 193.2,259.0 194.2,259.7 195.2,260.3 196.2,261.0 197.2,261.7 198.9,262.2 200.0,262.4 200.0,290.0 199.7,290.0 197.1,289.8 195.4,289.5 194.6,289.2 193.9,288.8 193.3,288.2 192.8,287.7 192.5,287.0 192.3,286.2 192.1,285.4 192.1,284.5 192.2,283.5 192.2,282.5 192.2,281.5 192.1,280.5 191.9,279.5 191.7,278.6 191.3,277.8 190.8,277.0 190.2,276.3 189.5,275.7 188.7,275.2 187.8,274.7 186.8,274.3 185.8,274.0 184.7,273.7 183.6,273.4 182.4,273.2 181.2,273.1 180.1,272.9 178.9,272.7 177.8,272.6 176.6,272.4 175.6,272.3 174.6,272.1 173.7,271.9 172.8,271.6 172.2,271.3 171.6,270.9 171.1,270.4 170.5,269.9 169.7,269.5 168.8,269.1 167.7,268.8 166.5,268.5 165.4,268.3 164.2,268.2 163.1,268.1 162.1,268.2 161.2,268.3 160.6,268.6 160.1,269.1 159.8,269.5 159.7,270.0 159.8,270.4 160.2,270.9 160.6,271.4 161.2,271.8 161.9,272.2 162.8,272.7 163.5,273.2 164.3,273.7 165.0,274.3 165.7,275.0 166.3,275.7 166.8,276.5 167.3,277.2 167.7,278.1 168.0,278.9 168.4,279.8 168.7,280.6 168.9,281.4 169.2,282.3 169.3,283.2 169.4,284.2 169.5,285.2 169.6,286.2 169.8,287.2 170.0,288.2 170.3,289.2 170.6,290.2 171.0,291.2 171.4,292.2 171.9,293.2 172.5,294.2 173.0,295.2 173.7,296.2 174.3,297.2 175.0,298.2 175.7,299.2 176.3,300.2 177.0,301.2 177.7,302.2 178.3,303.2 179.0,304.2 179.7,305.2 180.3,307.0 180.9,309.7 180.9,310.0 188.8,310.0 189.0,310.6 189.8,312.1 190.7,312.9 191.5,313.6 192.3,314.4 192.9,315.1 193.6,315.8 194.0,316.6 194.3,317.3 194.3,318.1 194.2,318.9 194.0,319.6 193.8,320.4 193.4,321.1 193.1,321.8 192.7,322.6 192.2,323.3 191.8,324.1 191.3,324.9 190.8,325.6 190.4,326.5 189.9,327.3 189.5,328.2 189.2,329.0 189.0,329.9 188.8,330.8 188.7,331.6 188.6,332.5 188.5,333.5 188.3,334.4 188.2,335.4 188.1,336.4 188.1,337.4 188.2,338.4 188.3,339.4 188.5,340.4 188.7,341.4 188.9,342.4 189.1,343.4 189.4,344.4 189.8,345.3 190.2,346.1 190.7,346.9 191.3,347.6 191.9,348.3 192.6,348.9 193.4,349.6 194.2,350.2 195.1,350.8 196.0,351.3 197.0,351.8 198.8,352.2 200.0,352.4 200.0,370.0 200.0,398.4 201.0,398.8 201.7,399.2 202.4,399.8 203.1,400.2 203.9,400.8 204.8,401.2 205.6,401.7 206.4,402.0 207.2,402.2 208.1,402.4 208.9,402.4 209.6,402.2 210.3,401.9 211.0,401.4 211.6,400.9 212.2,400.3 212.8,399.7 213.2,399.0 213.8,398.4 214.5,397.8 215.2,397.2 216.1,396.8 217.0,396.3 218.0,395.9 219.1,395.6 220.2,395.4 221.4,395.3 222.6,395.3 223.8,395.4 224.9,395.6 226.1,395.9 227.4,396.0 228.7,396.1 230.0,396.2 231.2,396.3 232.4,396.3 233.5,396.2 234.5,396.1 235.5,396.1 236.5,396.1 237.5,396.2 238.5,396.4 239.5,396.6 240.5,396.9 241.5,397.3 242.5,397.7 243.5,398.1 244.4,398.6 245.2,399.2 246.1,399.8 246.9,400.4 247.8,401.0 248.6,401.7 249.4,402.3 250.2,402.9 251.0,403.3 251.7,403.6 252.3,403.8 253.0,403.7 253.5,403.5 254.1,403.0 254.6,402.3 255.0,401.6 255.3,400.8 255.6,399.8 255.8,398.8 255.6,398.0 255.2,397.3 254.5,396.8 253.5,396.5 252.5,396.1 251.4,395.7 250.2,395.2 249.1,394.8 248.1,394.1 247.2,393.4 246.6,392.5 246.1,391.5 245.6,390.4 245.2,389.2 244.8,388.0 244.5,386.7 244.2,385.3 243.8,384.0 243.5,382.7 243.2,381.3 242.8,380.0 242.5,378.7 242.2,377.3 241.8,376.0 241.5,373.9 241.2,371.0 241.1,370.0 280.0,370.0 280.0,356.2 280.9,356.1 282.3,355.8 283.0,355.3 283.6,354.8 284.1,354.1 284.6,353.4 285.0,352.6 285.3,351.6 285.6,350.5 285.8,349.3 285.9,348.0 285.9,346.7 286.0,345.3 286.0,344.0 286.0,342.7 286.0,341.4 285.9,340.2 285.9,339.2 285.8,338.2 285.5,337.3 285.2,336.5 284.8,335.9 284.2,335.4 282.7,335.0 280.2,334.8 280.0,334.8 280.0,302.8 281.0,302.7 283.9,302.5 286.0,302.3 287.3,302.1 288.7,301.8 290.0,301.6 291.3,301.3 292.7,301.1 294.0,300.8 295.3,300.4 296.7,300.1 298.0,299.7 299.3,299.2 300.7,298.8 302.0,298.3 303.3,297.7 304.7,297.2 306.0,296.8 307.3,296.4 308.7,296.1 310.0,295.8 311.3,295.6 312.7,295.4 314.0,295.3 315.3,295.2 316.7,295.1 318.0,295.2 319.3,295.2 320.6,295.4 321.8,295.6 322.8,295.9 323.8,296.3 324.8,296.8 325.8,297.2 326.8,297.7 327.8,298.3 328.8,298.8 329.8,299.4 330.8,299.9 331.8,300.5 332.9,301.0 334.1,301.6 335.3,302.1 336.7,302.6 338.0,303.1 339.3,303.5 340.7,303.9 342.0,304.3 343.3,304.7 344.7,305.1 346.0,305.4 347.3,305.8 348.7,306.1 350.0,306.3 351.3,306.6 352.7,306.8 354.9,306.9 358.0,307.1 360.0,307.1 360.0,306.6 361.8,306.4 363.5,306.0 364.5,305.6 365.5,305.1 366.4,304.5 367.2,303.8 368.1,303.1 368.8,302.3 369.5,301.4 370.1,300.5 370.6,299.5 370.6,299.3 370.5,299.3 370.5,296.5 367.7,296.5 367.7,293.7 364.9,293.7 364.9,290.9 362.1,290.9 362.1,290.9 359.3,290.9 359.3,288.1 356.5,288.1 356.5,285.2 353.7,285.2 353.7,282.4 350.9,282.4 350.9,279.6 348.0,279.6 348.0,276.9 348.0,276.8 348.0,274.0 345.2,274.0 345.2,271.2 342.4,271.2 342.4,268.4 339.6,268.4 339.6,265.6 336.8,265.6 336.8,262.8 336.8,262.8 336.8,260.0 336.8,260.0 336.8,257.1 334.0,257.1 334.0,254.4 334.0,254.3 334.0,251.6 334.0,251.5 334.0,248.8 334.0,248.7 334.0,245.9 336.8,245.9 336.8,243.1 339.6,243.1 339.6,240.3 336.8,240.3 336.8,240.3 334.8,240.3 334.3,240.3 327.9,240.9 325.5,241.5 325.5,243.1 323.6,243.1 323.0,244.0 322.5,245.1 321.9,246.2 321.4,247.2 321.0,248.2 320.8,249.2 320.7,250.2 320.7,251.2 320.8,252.1 321.0,253.0 321.4,253.9 321.9,254.8 322.5,255.6 323.2,256.4 323.9,257.2 324.8,258.1 325.5,258.9 326.0,259.8 326.5,260.6 326.8,261.4 327.0,262.2 327.0,263.1 326.8,263.9 326.5,264.8 326.0,265.6 325.5,266.4 324.8,267.2 323.9,268.1 323.0,268.9 322.1,269.6 321.2,270.3 320.2,271.0 319.1,271.6 317.9,272.2 316.7,272.8 315.3,273.2 313.9,273.7 312.4,274.1 310.8,274.5 309.2,274.8 307.5,275.2 305.8,275.5 304.2,275.8 302.5,276.2 300.8,276.5 299.2,276.8 297.5,277.2 295.8,277.5 294.2,277.9 292.8,278.3 291.3,278.8 290.0,279.2 288.8,279.8 287.6,280.2 286.5,280.8 285.5,281.2 283.6,281.8 280.9,282.2 280.0,282.4 280.0,285.0 278.9,285.1 277.2,285.3 276.2,285.6 275.2,285.9 274.2,286.3 273.2,286.8 272.2,287.2 271.3,288.6 270.8,290.0 256.2,290.0 256.5,288.0 256.9,284.9 257.4,282.7 257.9,281.3 258.4,280.0 258.9,278.7 259.4,277.3 259.9,276.0 260.4,274.7 260.9,273.3 261.4,272.0 261.9,270.7 262.4,269.3 262.7,268.0 263.1,266.7 263.3,265.3 263.6,264.0 263.8,262.7 263.9,261.3 264.1,260.0 264.1,258.7 264.2,257.3 264.2,256.0 264.1,254.7 264.0,253.3 264.0,252.0 263.9,250.7 263.8,249.3 263.8,248.0 263.8,246.7 263.8,245.3 263.9,244.0 264.0,242.7 264.0,241.3 264.1,240.0 264.2,238.7 264.2,237.3 264.1,236.0 263.9,234.7 263.7,233.3 263.4,232.0 263.0,230.7 262.6,229.3 262.1,228.0 261.6,226.7 261.1,225.3 260.6,224.0 260.1,222.7 259.6,221.3 259.1,220.0 258.7,218.7 258.2,217.3 257.8,215.1 257.4,212.0 257.2,210.0 254.3,210.0 254.4,208.0 254.5,204.9 254.6,202.7 254.7,201.3 254.9,200.1 255.1,198.9 255.3,197.8 255.6,196.8 255.9,195.8 256.2,194.7 256.5,193.6 256.8,192.4 257.2,191.2 257.5,190.1 257.8,188.9 258.2,187.8 258.5,186.5 258.7,185.3 258.9,184.0 259.1,182.7 259.2,181.3 259.4,180.0 259.5,178.7 259.6,177.3 259.6,176.0 259.7,174.7 259.7,173.3 259.6,172.0 259.6,170.7 259.6,169.3 259.5,168.0 259.4,166.7 259.4,165.3 259.3,164.0 259.2,162.7 259.1,161.3 259.0,160.0 258.9,158.7 258.7,157.3 258.6,156.0 258.4,154.7 258.3,153.3 258.1,152.0 257.9,150.7 257.7,149.4 257.5,148.1 257.2,146.9 257.0,145.8 256.9,144.7 255.3,144.7 255.3,144.7 252.5,144.7 252.5,144.7 249.7,144.7 249.7,141.9 246.9,141.9 246.9,139.1 244.0,139.1 244.0,141.9 241.2,141.9 241.2,144.7 238.5,144.7 238.4,144.7 235.6,144.7 235.6,141.9 232.8,141.9 232.8,139.1 230.0,139.1 230.0,141.9 230.0,142.0 230.0,144.7 227.2,144.7 227.2,144.7 225.3,144.7 224.5,145.5 223.5,146.5 222.4,147.6 221.4,148.7 220.5,149.7 219.8,150.8 219.1,151.8 218.5,152.8 218.1,153.8 217.8,154.9 217.7,155.9 217.4,157.4 217.0,159.2 216.5,161.5 215.9,164.2 214.8,166.3 213.2,167.9 211.2,168.8 208.7,169.2 205.6,169.5 202.0,169.7 200.0,169.8 200.0,174.5 197.2,175.3 195.1,176.2 194.1,177.3 193.1,178.3 192.3,179.4 191.6,180.5ZM155.3,304.6 154.0,304.4 152.7,304.2 151.3,304.1 150.0,304.1 148.7,304.2 147.5,304.5 146.4,304.8 145.4,305.2 144.6,305.8 143.9,307.3 143.3,309.8 143.3,310.0 141.4,310.0 141.4,310.9 141.1,313.6 140.8,315.5 140.5,316.5 140.2,317.5 139.8,318.5 139.5,319.5 139.2,320.5 138.8,321.4 138.2,322.2 137.7,323.0 137.0,323.7 136.2,324.2 135.2,324.7 134.0,325.1 132.7,325.3 131.3,325.6 130.0,325.8 128.7,325.9 127.3,326.1 126.1,326.3 125.0,326.6 124.1,326.9 123.2,327.4 122.6,327.9 122.1,328.6 121.8,329.5 121.6,330.5 121.5,331.5 121.6,332.6 121.8,333.8 122.2,334.9 122.5,336.1 123.0,337.2 123.4,338.4 123.9,339.6 124.5,340.7 125.0,341.8 125.7,342.8 126.3,343.8 127.1,344.8 127.9,345.6 128.8,346.3 129.8,347.0 130.9,347.6 132.0,348.1 133.1,348.5 134.2,348.8 135.4,349.0 136.5,349.1 137.5,349.1 138.5,348.9 139.5,348.7 140.4,348.5 141.2,348.2 142.1,347.8 142.9,347.7 143.6,347.7 144.3,347.8 145.0,348.2 145.7,348.5 146.3,349.0 147.0,349.4 147.7,349.9 148.4,350.4 149.2,350.7 150.2,351.0 151.2,351.2 152.2,351.4 153.3,351.4 154.4,351.2 155.6,351.0 156.7,350.7 157.8,350.4 158.8,349.9 159.8,349.4 160.8,348.9 161.8,348.3 162.8,347.7 163.8,347.0 164.8,346.3 165.8,345.7 166.8,345.0 167.8,344.3 168.8,343.7 169.7,343.0 170.6,342.3 171.4,341.7 172.1,341.0 172.7,340.2 173.2,339.4 173.5,338.6 173.7,337.8 173.7,337.0 173.5,336.3 173.2,335.7 172.7,335.1 172.1,334.5 171.4,334.0 170.6,333.6 169.7,333.2 168.8,333.0 167.8,332.8 166.8,332.8 165.8,332.8 164.8,332.9 163.8,333.1 162.8,333.3 161.9,333.6 161.0,334.0 160.1,334.4 159.2,334.9 158.5,335.1 157.9,335.2 157.3,335.0 156.9,334.6 156.7,334.1 156.6,333.6 156.7,333.0 156.9,332.3 157.3,331.7 157.8,331.1 158.3,330.6 159.0,330.1 159.6,329.5 160.1,328.8 160.6,328.1 161.0,327.2 161.2,326.4 161.3,325.6 161.2,324.8 161.0,323.9 160.8,323.0 160.5,322.1 160.2,321.2 159.8,320.2 159.5,319.2 159.2,318.2 158.8,317.2 158.5,316.2 158.2,314.2 158.0,311.4 157.9,310.0 161.5,310.0 160.8,307.7 159.8,306.3 158.8,305.7 157.8,305.3 156.6,304.9 155.3,304.6ZM178.3,378.9 178.9,379.6 179.5,380.3 180.2,381.0 181.1,381.6 182.0,382.0 183.1,382.4 184.2,382.7 185.4,382.8 186.6,382.9 187.8,382.9 188.9,382.8 190.0,382.6 191.1,382.3 192.2,381.9 193.2,381.4 194.1,380.8 194.9,380.2 195.6,379.4 196.2,378.6 196.7,377.7 197.0,376.8 197.3,375.8 197.4,374.8 197.4,373.8 197.3,372.8 197.0,371.8 196.6,370.8 196.1,369.9 195.5,369.1 194.8,368.3 193.9,367.7 193.0,367.1 192.0,366.7 190.9,366.4 189.8,366.2 188.6,366.2 187.4,366.2 186.2,366.4 185.1,366.7 184.0,367.0 182.9,367.4 181.8,367.9 180.8,368.5 180.0,369.1 179.2,369.8 178.6,370.6 178.1,371.4 177.7,372.2 177.4,373.1 177.2,373.9 177.2,374.8 177.2,375.6 177.3,376.4 177.6,377.2 177.9,378.1 178.3,378.9ZM167.8,382.0 168.3,382.2 169.0,382.4 169.7,382.4 170.3,382.2 171.0,381.9 171.7,381.4 172.2,380.8 172.7,380.2 173.0,379.4 173.2,378.6 173.4,377.8 173.4,376.9 173.2,376.1 173.0,375.2 172.7,374.5 172.2,374.0 171.7,373.5 171.0,373.2 170.3,373.0 169.7,372.9 169.0,373.1 168.3,373.3 167.8,373.7 167.2,374.2 166.8,374.8 166.5,375.6 166.2,376.3 166.1,377.0 166.0,377.8 166.0,378.5 166.1,379.2 166.2,379.9 166.5,380.5 166.8,381.1 167.2,381.6 167.8,382.0ZM210.9,423.2 211.2,424.4 211.5,425.6 211.8,426.7 212.2,427.7 212.5,428.7 212.8,429.7 213.2,430.3 213.6,430.8 214.1,430.9 214.6,430.8 215.0,430.4 215.5,429.8 215.8,428.9 216.2,427.8 216.5,426.6 216.8,425.4 217.2,424.2 217.5,423.1 217.8,421.9 218.0,420.8 218.2,419.6 218.2,418.4 218.2,417.4 218.1,416.5 217.8,415.7 217.3,415.0 216.8,414.5 216.2,414.0 215.4,413.8 214.6,413.6 213.8,413.5 213.0,413.6 212.2,413.8 211.5,414.2 210.9,414.6 210.5,415.2 210.2,415.9 210.2,416.8 210.1,417.7 210.2,418.7 210.2,419.8 210.4,420.9 210.6,422.1 210.9,423.2Z" fill="#FFFFC8" fill-rule="evenodd"/>
<path d="M205.7,139.1 205.7,140.0 205.5,140.9 205.2,141.8 204.9,142.7 204.6,143.6 204.3,144.6 204.1,145.6 203.9,146.6 203.8,147.6 203.8,148.6 203.9,149.6 204.1,150.6 204.3,151.6 204.6,152.6 205.0,153.6 205.4,154.6 205.8,155.6 206.1,156.6 206.4,157.6 206.7,158.6 206.8,159.6 206.9,160.6 206.9,161.6 206.8,162.5 206.6,163.5 206.3,164.4 205.9,165.3 205.4,166.1 204.9,166.8 204.2,167.4 203.5,167.9 201.9,168.3 200.0,168.6 200.0,171.2 200.1,171.2 201.8,170.9 203.1,170.6 204.3,170.2 205.6,169.9 206.8,169.6 208.1,169.3 209.4,169.1 210.6,168.9 211.8,168.8 213.1,168.7 214.2,168.7 215.3,168.7 216.3,168.9 217.2,169.1 217.9,169.3 218.5,169.5 218.9,169.7 219.1,169.8 219.3,170.2 219.3,170.9 219.3,171.8 219.1,173.1 219.0,174.3 218.8,175.5 218.6,176.6 218.3,177.8 218.1,178.8 217.7,179.8 217.2,180.8 216.8,181.6 216.2,182.5 215.6,183.3 214.8,184.1 214.1,184.8 213.3,185.6 212.4,186.3 211.4,186.9 210.4,187.6 209.4,188.2 208.4,188.8 207.4,189.3 206.4,189.8 205.5,190.3 204.6,190.9 203.8,191.4 203.1,192.0 202.5,192.7 202.0,193.5 201.6,194.3 201.2,195.2 201.1,196.1 201.0,197.0 201.1,197.8 201.2,198.7 201.5,199.5 201.9,200.3 202.4,201.1 203.1,201.8 203.8,202.5 204.6,203.2 205.5,203.9 206.5,204.5 207.5,205.1 208.5,205.7 209.5,206.3 210.5,206.9 211.5,207.4 212.5,207.8 213.5,208.1 214.5,208.4 215.5,208.6 216.4,208.6 217.3,208.5 218.2,208.3 219.0,208.0 219.7,207.5 220.4,206.8 221.0,206.1 221.5,205.3 221.9,204.4 222.3,203.4 222.5,202.4 222.8,201.4 223.0,200.4 223.2,199.4 223.4,198.4 223.7,197.4 223.9,196.4 224.2,195.4 224.6,194.4 225.0,193.4 225.4,192.4 226.0,191.4 226.6,190.4 227.2,189.4 227.8,188.4 228.4,187.4 229.1,186.4 229.6,185.4 230.1,184.3 230.4,183.1 230.8,181.8 231.0,180.6 231.2,179.4 231.3,178.1 231.4,176.8 231.3,175.7 231.2,174.6 230.9,173.6 230.6,172.7 230.1,171.8 229.7,171.0 229.2,170.2 228.6,169.4 228.0,168.7 227.3,167.9 226.7,167.2 226.0,166.5 225.2,165.8 224.5,165.2 223.6,164.5 222.8,163.9 221.9,163.3 221.1,162.6 220.4,162.0 219.6,161.4 219.0,160.8 218.5,160.1 218.1,159.4 217.9,158.6 217.7,157.9 217.6,157.1 217.7,156.4 217.8,155.6 218.0,155.0 218.3,154.3 218.8,153.8 219.2,153.3 219.8,152.8 220.3,152.2 220.9,151.6 221.6,150.9 222.2,150.3 222.9,149.6 223.6,148.8 224.4,148.1 225.1,147.4 225.9,146.7 226.6,146.0 227.4,145.4 228.0,144.8 228.0,144.7 227.2,144.7 227.2,144.7 224.4,144.7 224.4,144.7 221.6,144.7 221.6,144.7 218.8,144.7 218.7,144.7 216.0,144.7 215.9,144.7 213.2,144.7 213.2,141.9 210.4,141.9 210.3,141.9 207.5,141.9 207.5,139.1 205.7,139.1 205.7,139.1ZM294.8,172.2 295.5,172.9 296.2,173.7 297.0,174.5 297.9,175.3 298.7,176.2 299.5,177.0 300.4,177.8 301.2,178.7 302.0,179.5 302.9,180.3 303.7,181.2 304.5,182.0 305.4,182.8 306.2,183.7 307.0,184.5 307.8,185.3 308.6,186.0 309.4,186.6 310.2,187.2 311.0,187.7 311.8,188.1 312.7,188.3 313.6,188.5 314.3,188.6 314.3,186.9 311.5,186.9 311.5,184.1 308.7,184.1 308.7,181.3 305.9,181.3 305.9,178.5 303.1,178.5 303.1,175.7 300.3,175.7 300.3,172.8 297.5,172.8 297.5,170.0 294.7,170.0 294.7,169.0 294.1,170.0 293.9,170.9 294.3,171.5 294.8,172.2ZM216.8,260.7 217.2,260.9 217.8,261.1 218.3,261.2 219.0,261.2 219.6,261.2 220.2,261.1 220.8,260.8 221.2,260.5 221.6,260.1 221.9,259.7 222.0,259.1 222.0,258.6 221.9,258.1 221.6,257.6 221.2,257.2 220.8,256.9 220.2,256.7 219.6,256.5 219.0,256.5 218.3,256.6 217.7,256.7 217.2,256.9 216.7,257.3 216.3,257.7 216.1,258.1 215.9,258.5 215.8,258.9 215.9,259.4 216.0,259.7 216.2,260.1 216.5,260.4 216.8,260.7ZM205.0,278.8 205.7,277.9 206.2,277.0 206.7,276.1 207.1,275.2 207.3,274.2 207.6,273.2 207.7,272.2 207.8,271.2 207.9,270.2 207.8,269.2 207.6,268.4 207.2,267.7 206.8,267.0 206.2,266.4 205.5,265.9 204.8,265.5 203.9,265.2 202.2,265.0 200.0,264.9 200.0,282.4 200.9,282.2 202.3,281.7 203.0,281.0 203.7,280.3 204.3,279.5 205.0,278.8ZM249.9,297.7 250.0,298.6 250.3,299.4 250.7,300.2 251.2,300.8 251.9,301.4 252.8,301.9 253.7,302.3 254.7,302.5 255.8,302.5 256.9,302.4 258.0,302.2 259.1,302.0 260.2,301.7 261.2,301.3 262.2,300.8 263.2,300.3 264.2,299.7 265.2,299.0 266.1,298.3 267.0,297.5 267.9,296.8 268.8,295.9 269.5,295.1 270.2,294.2 270.8,293.4 271.2,292.6 271.7,291.0 271.8,290.0 251.0,290.0 251.0,290.3 250.6,293.0 250.3,294.8 250.0,295.8 249.9,296.8 249.9,297.7ZM272.5,311.8 271.6,312.6 270.8,313.5 269.9,314.5 269.1,315.5 268.4,316.6 267.8,317.8 267.2,318.9 266.8,320.1 266.3,321.2 266.0,322.4 265.7,323.6 265.6,324.7 265.6,325.8 265.8,326.8 266.2,327.8 266.6,328.8 267.2,329.6 267.9,330.3 268.8,331.0 269.7,331.6 270.7,332.2 271.8,332.6 272.9,333.1 274.0,333.4 275.1,333.7 276.2,333.8 277.2,333.9 278.9,333.9 280.0,333.9 280.0,309.2 279.1,309.2 276.4,309.8 274.5,310.3 273.5,311.0 272.5,311.8ZM462.1,330.0 463.2,331.1 464.1,332.4 464.9,334.0 465.6,335.3 466.3,336.3 467.0,337.0 467.7,337.4 468.9,336.9 468.9,335.9 470.6,335.9 471.6,335.1 471.7,335.1 471.7,333.1 474.2,333.1 474.5,332.8 474.5,330.2 477.3,330.2 477.3,327.4 479.7,327.4 480.1,326.6 480.1,325.8 479.1,324.6 477.3,324.6 477.3,324.6 474.5,324.6 474.5,324.6 471.7,324.6 471.6,324.6 468.9,324.6 468.8,324.6 466.1,324.6 466.0,324.6 463.3,324.6 463.2,324.6 460.4,324.6 460.4,324.6 457.6,324.6 457.6,324.6 457.3,324.6 456.6,325.0 457.0,326.1 457.6,327.1 458.5,327.9 459.6,328.6 460.9,329.1 462.1,330.0ZM210.8,362.5 210.7,361.5 210.4,360.5 210.1,359.5 209.7,358.6 209.1,357.8 208.5,357.0 207.8,356.3 207.0,355.8 206.1,355.2 205.2,354.8 204.2,354.5 202.4,354.3 200.0,354.2 200.0,370.0 200.0,373.0 200.8,372.9 203.4,372.7 205.0,372.4 205.7,372.1 206.2,370.9 206.5,370.0 210.4,370.0 210.4,369.1 210.6,366.4 210.8,364.5 210.8,363.5 210.8,362.5ZM270.8,359.4 269.2,359.6 267.5,359.9 265.8,360.2 264.2,360.5 262.5,360.8 260.9,361.2 259.4,361.5 258.0,361.8 256.7,362.2 255.3,362.5 254.0,363.0 252.7,363.4 251.3,363.9 250.1,364.5 248.9,365.0 247.8,365.7 246.8,366.3 245.9,367.9 245.2,370.0 280.0,370.0 280.0,358.3 278.6,358.4 276.7,358.6 275.3,358.8 273.9,359.0 272.4,359.2 270.8,359.4Z" fill="#FFD228" fill-rule="evenodd"/>
<path d="M267.2,366.7 266.8,366.3 266.2,366.1 265.5,365.9 264.8,365.9 263.9,366.1 263.1,366.3 262.4,366.6 261.7,366.9 261.0,367.4 260.4,368.7 260.1,370.0 267.9,370.0 267.7,368.1 267.2,366.7Z" fill="#FF9600" fill-rule="evenodd"/>
<path d="M203.8,184.7 204.5,184.8 205.2,184.9 206.1,184.9 206.9,184.8 207.8,184.6 208.6,184.3 209.4,183.9 210.2,183.5 210.9,183.1 211.6,182.6 212.2,182.1 212.7,181.5 213.2,181.0 213.6,180.3 213.9,179.7 214.1,179.0 214.2,178.4 214.1,177.8 213.9,177.2 213.6,176.8 213.1,176.3 212.5,176.0 211.8,175.7 211.0,175.6 210.1,175.5 209.2,175.6 208.2,175.8 207.2,176.0 206.3,176.3 205.4,176.8 204.6,177.2 203.8,177.8 203.2,178.5 202.7,179.2 202.2,180.1 201.9,180.8 201.8,181.6 201.8,182.2 201.8,182.8 202.1,183.3 202.3,183.7 202.8,184.1 203.2,184.4 203.8,184.7ZM205.8,227.2 206.9,227.2 208.1,227.2 209.2,227.1 210.4,226.9 211.6,226.7 212.7,226.3 213.7,226.0 214.6,225.6 215.4,225.1 216.2,224.6 216.8,223.9 217.4,223.2 217.9,222.5 218.2,221.7 218.4,221.0 218.4,220.3 218.2,219.7 218.0,219.0 217.5,218.5 217.0,217.9 216.3,217.4 215.6,217.0 214.8,216.6 213.8,216.3 212.8,216.0 211.8,215.8 210.7,215.7 209.6,215.6 208.4,215.6 207.3,215.7 206.2,215.8 205.2,215.9 204.2,216.1 202.4,216.3 200.0,216.6 200.0,225.9 200.4,225.9 201.9,226.2 202.8,226.6 203.7,226.8 204.7,227.0 205.8,227.2ZM191.9,241.3 191.2,242.2 190.8,243.2 190.4,244.2 190.2,245.3 190.2,246.4 190.2,247.6 190.5,248.7 190.8,249.8 191.2,250.8 191.8,251.8 192.4,252.8 193.2,253.7 193.9,254.6 194.8,255.4 196.5,256.2 199.2,256.8 200.0,257.0 200.0,258.7 200.2,258.7 202.8,258.4 204.3,258.0 205.0,257.6 205.6,257.1 206.2,256.5 206.8,255.8 207.2,255.1 207.7,254.3 208.0,253.4 208.2,252.5 208.4,251.5 208.5,250.5 208.4,249.6 208.3,248.8 208.1,247.9 207.8,247.1 207.4,246.3 206.9,245.5 206.4,244.8 205.8,244.1 205.2,243.4 204.5,242.9 203.8,242.4 202.2,242.1 200.0,241.8 200.0,238.2 199.1,238.2 196.4,238.7 194.5,239.2 193.5,239.8 192.6,240.5 191.9,241.3ZM193.4,297.8 192.8,298.2 192.4,298.7 192.1,299.2 191.9,299.8 191.8,300.4 191.9,301.1 192.1,301.7 192.4,302.3 192.8,302.9 193.2,303.6 193.8,304.2 194.3,304.9 194.8,305.6 195.3,306.4 195.8,307.0 196.3,307.7 196.8,308.2 197.3,308.7 197.7,310.0 199.0,310.0 199.1,310.3 199.3,311.8 199.6,312.7 199.8,313.5 199.8,314.3 199.8,315.1 199.7,315.8 199.5,316.6 199.4,317.3 199.3,318.1 199.1,318.9 199.0,319.6 198.9,320.4 198.8,321.1 198.7,321.8 198.6,322.6 198.6,323.4 198.5,324.3 198.5,325.2 198.6,326.1 198.6,327.0 198.7,327.8 198.8,328.7 198.9,329.6 199.1,330.4 199.3,331.3 199.6,332.2 200.0,332.4 200.0,335.9 201.1,335.8 202.8,335.5 203.8,335.2 204.8,334.8 205.8,334.4 206.8,333.9 207.8,333.4 208.8,332.9 209.8,332.3 210.8,331.7 211.8,331.0 212.8,330.3 213.7,329.5 214.6,328.8 215.4,327.9 216.2,327.0 217.1,326.1 217.9,325.2 218.8,324.2 219.6,323.2 220.4,322.2 221.2,321.2 222.1,320.2 222.9,319.2 223.6,318.3 224.3,317.4 225.0,316.6 225.7,315.8 226.3,314.9 227.0,314.1 227.7,313.2 228.4,312.4 229.1,311.6 229.9,310.8 230.8,309.9 231.6,309.1 232.5,308.2 233.5,307.4 234.5,306.6 235.4,305.8 236.2,304.9 237.0,304.1 237.7,303.2 238.3,302.4 239.0,301.5 239.7,300.5 240.3,299.5 241.0,298.5 241.8,297.5 242.6,296.5 243.4,295.5 244.2,293.6 245.0,290.9 245.1,290.0 253.0,290.0 253.1,289.1 253.6,286.4 254.1,284.5 254.6,283.5 255.1,282.5 255.6,281.5 256.1,280.5 256.6,279.5 257.0,278.5 257.5,277.5 257.8,276.5 258.2,275.5 258.4,274.5 258.6,273.5 258.7,272.5 258.7,271.5 258.6,270.5 258.6,269.5 258.6,268.5 258.5,267.5 258.5,266.5 258.5,265.5 258.5,264.5 258.6,263.5 258.7,262.5 258.8,261.5 258.9,260.5 259.1,259.5 259.2,258.5 259.4,257.5 259.5,256.5 259.6,255.5 259.7,254.5 259.8,253.5 259.8,252.5 259.9,251.5 260.0,250.5 260.0,249.5 260.1,248.5 260.2,247.5 260.2,246.5 260.2,245.5 260.2,244.5 260.1,243.5 260.0,242.5 259.9,241.5 259.8,240.5 259.6,239.5 259.4,238.5 259.1,237.5 258.8,236.5 258.5,235.5 258.1,234.5 257.7,233.5 257.2,232.5 256.8,231.5 256.2,230.5 255.8,229.5 255.2,228.5 254.8,227.5 254.3,226.5 253.9,225.5 253.5,224.5 253.2,223.5 252.8,222.5 252.5,221.5 252.2,220.5 251.8,219.5 251.5,218.5 251.2,217.5 250.8,216.5 250.5,215.5 250.1,213.6 249.7,210.9 249.6,210.0 249.1,210.0 249.2,209.1 249.6,206.4 250.1,204.5 250.6,203.5 251.1,202.5 251.6,201.5 252.1,200.5 252.6,199.5 253.0,198.5 253.5,197.5 253.8,196.5 254.2,195.5 254.4,194.5 254.6,193.5 254.8,192.5 254.8,191.5 254.8,190.5 254.8,189.5 254.7,188.5 254.6,187.5 254.4,186.4 254.3,185.2 254.1,184.0 253.9,182.7 253.7,181.3 253.6,180.0 253.5,178.7 253.4,177.3 253.4,176.0 253.3,174.7 253.3,173.3 253.3,172.0 253.3,170.7 253.3,169.3 253.2,168.0 253.2,166.7 253.2,165.4 253.3,164.2 253.4,163.2 253.7,162.2 253.9,161.2 254.1,160.2 254.3,159.2 254.6,158.2 254.7,157.2 254.8,156.2 254.7,155.2 254.6,154.2 254.4,153.2 254.2,152.2 253.9,151.2 253.6,150.2 253.2,149.1 252.8,148.0 252.4,146.9 252.0,145.8 251.5,144.8 251.5,144.7 249.7,144.7 249.7,142.8 249.7,142.8 249.1,142.1 248.9,141.9 246.9,141.9 246.9,139.1 244.0,139.1 244.0,141.9 241.3,141.9 241.2,142.0 241.2,144.7 238.5,144.7 238.4,144.7 238.3,144.7 238.2,145.0 237.8,145.8 237.5,146.6 237.2,147.4 236.9,148.4 236.6,149.5 236.4,150.7 236.2,152.0 236.1,153.3 236.1,154.7 236.1,156.0 236.2,157.3 236.2,158.7 236.3,160.0 236.4,161.3 236.5,162.7 236.6,164.0 236.7,165.3 236.9,166.7 237.0,168.0 237.1,169.4 237.1,170.8 237.1,172.2 237.0,173.8 237.0,175.2 236.9,176.8 236.8,178.2 236.7,179.8 236.6,181.2 236.5,182.6 236.3,183.8 236.2,185.1 236.0,186.3 235.7,187.6 235.2,188.8 234.8,190.1 234.1,191.4 233.4,192.6 232.5,193.8 231.5,195.1 230.6,196.3 229.9,197.6 229.2,198.8 228.8,200.1 228.3,201.4 228.0,202.8 227.8,204.2 227.6,205.8 227.5,207.9 227.6,210.0 227.0,210.0 226.9,210.9 226.3,213.6 225.7,215.5 225.0,216.5 224.4,217.5 224.0,218.5 223.6,219.5 223.3,220.5 223.2,221.5 223.3,222.5 223.6,223.5 224.0,224.5 224.5,225.5 224.9,226.5 225.4,227.5 225.9,228.5 226.3,229.5 226.7,230.5 226.9,231.5 227.1,232.5 227.2,233.5 227.2,234.5 227.1,235.5 226.9,236.5 226.7,237.5 226.5,238.5 226.2,239.5 225.8,240.5 225.5,241.5 225.3,242.5 225.1,243.5 224.9,244.5 224.9,245.5 225.1,246.5 225.4,247.5 225.9,248.5 226.5,249.5 227.2,250.5 227.9,251.5 228.8,252.5 229.6,253.5 230.4,254.4 231.2,255.2 232.1,256.1 232.9,256.9 233.6,257.8 234.3,258.6 235.0,259.4 235.6,260.2 236.1,261.0 236.6,261.7 237.0,262.3 237.2,263.0 237.2,263.8 237.0,264.6 236.6,265.4 236.1,266.2 235.3,267.1 234.5,267.9 233.5,268.8 232.4,269.5 231.2,270.3 230.0,271.0 228.7,271.7 227.3,272.3 226.0,273.0 224.7,273.7 223.3,274.3 222.2,275.0 221.2,275.7 220.3,276.3 219.7,277.0 219.0,277.7 218.2,278.5 217.4,279.4 216.6,280.2 215.8,281.2 215.2,282.2 214.6,283.4 214.1,284.5 213.6,286.5 213.0,289.3 212.9,290.0 207.4,290.0 207.3,290.3 206.2,292.8 205.1,294.2 203.8,294.7 201.9,295.1 200.0,295.4 200.0,296.5 199.9,296.5 197.3,296.7 195.6,296.9 194.8,297.1 194.0,297.4 193.4,297.8ZM220.7,366.5 220.3,366.8 220.0,368.1 219.7,370.0 212.9,370.0 212.8,370.9 212.8,373.6 212.9,375.5 213.1,376.5 213.3,377.4 213.7,378.3 214.1,379.1 214.6,379.8 215.2,380.5 215.8,381.0 216.6,381.4 217.4,381.8 218.2,382.0 219.1,382.0 219.9,381.9 220.8,381.7 221.5,381.3 222.2,380.9 222.8,380.3 223.4,379.7 223.9,378.9 224.3,378.1 224.7,377.2 224.9,376.2 225.1,375.2 225.1,374.2 225.1,373.2 224.9,372.2 224.8,370.5 224.7,370.0 222.2,370.0 222.2,368.6 222.0,367.2 221.7,366.8 221.4,366.5 221.1,366.4 220.7,366.5ZM335.5,269.2 334.8,270.2 333.9,271.2 333.1,272.2 332.2,273.2 331.4,274.2 330.6,275.2 329.8,276.1 329.0,276.9 328.3,277.7 327.7,278.3 327.0,279.0 326.5,279.7 325.9,280.3 325.4,281.0 325.1,281.6 325.0,282.2 325.2,282.8 325.5,283.2 326.0,283.7 326.7,284.1 327.5,284.5 328.5,284.8 329.5,285.2 330.4,285.5 331.2,285.8 332.1,286.2 332.9,286.5 333.6,287.0 334.3,287.4 335.0,287.9 335.6,289.2 335.8,290.0 340.2,290.0 340.6,291.4 341.5,292.8 342.5,293.2 343.6,293.7 344.8,294.0 346.0,294.2 347.3,294.4 348.7,294.5 350.0,294.4 351.3,294.3 352.7,294.1 353.9,293.8 355.1,293.4 356.2,292.9 357.2,292.4 358.0,291.0 358.3,290.0 359.3,290.0 359.3,288.1 356.5,288.1 356.5,285.2 353.7,285.2 353.7,282.4 350.9,282.4 350.9,279.6 348.0,279.6 348.0,276.9 348.0,276.8 348.0,274.0 345.2,274.0 345.2,271.2 342.4,271.2 342.4,268.4 339.6,268.4 339.6,266.1 337.7,266.6 337.0,267.4 336.3,268.3 335.5,269.2ZM320.2,282.9 319.9,282.4 319.4,282.0 318.7,281.7 317.8,281.6 316.7,281.6 315.3,281.8 313.9,281.9 312.4,282.1 310.8,282.2 309.2,282.4 307.5,282.6 305.8,282.7 304.2,282.8 302.5,282.9 300.8,283.0 298.9,283.1 297.0,283.3 295.0,283.4 293.2,283.6 291.5,283.9 290.0,284.2 288.7,284.7 287.4,286.2 286.1,288.7 285.7,290.0 281.5,290.0 281.5,290.7 281.5,293.2 281.7,294.7 282.1,295.2 282.6,295.5 283.3,295.7 284.2,295.8 285.2,295.7 286.2,295.6 287.3,295.3 288.4,295.0 289.6,294.6 290.8,294.2 292.0,293.9 293.3,293.6 294.7,293.3 296.0,293.1 297.3,292.8 298.7,292.6 300.0,292.4 301.3,292.1 302.7,291.9 304.0,291.6 305.3,291.4 306.7,290.3 306.9,290.0 318.7,290.0 318.8,289.4 319.4,286.8 319.8,285.1 320.2,284.3 320.3,283.6 320.2,282.9ZM226.6,323.5 226.4,324.6 226.2,325.8 226.2,326.9 226.1,328.1 226.2,329.2 226.2,330.4 226.4,331.6 226.6,332.8 226.8,333.9 226.9,335.1 227.1,336.2 227.1,337.4 227.0,338.6 226.8,339.8 226.5,340.9 226.2,342.1 225.8,343.2 225.5,344.4 225.2,345.6 225.0,346.8 224.9,347.9 224.9,349.1 225.1,350.2 225.4,351.4 225.9,352.4 226.6,353.4 227.4,354.2 228.4,355.1 229.5,355.8 230.7,356.5 232.0,357.1 233.4,357.6 234.8,358.1 236.2,358.4 237.8,358.7 239.3,358.9 240.9,359.1 242.5,359.2 244.2,359.2 245.8,359.2 247.5,359.1 249.2,358.9 250.8,358.7 252.4,358.4 253.9,358.0 255.3,357.7 256.7,357.3 258.0,356.8 259.3,356.4 260.7,355.9 262.0,355.4 263.2,354.9 264.4,354.4 265.5,353.9 266.5,353.4 267.5,352.9 268.4,352.3 269.2,351.7 270.1,351.0 270.8,350.3 271.4,349.5 271.8,348.8 272.2,347.9 272.3,347.1 272.3,346.2 272.2,345.4 271.8,344.6 271.4,343.8 270.8,343.0 270.1,342.3 269.2,341.7 268.4,341.0 267.5,340.3 266.5,339.7 265.5,339.0 264.5,338.3 263.6,337.5 262.8,336.8 261.9,335.9 261.2,335.0 260.6,334.0 260.2,332.9 259.8,331.8 259.6,330.6 259.5,329.4 259.6,328.2 259.8,327.1 260.0,325.9 260.3,324.8 260.8,323.6 261.2,322.4 261.8,321.2 262.2,320.1 262.8,318.9 263.2,317.8 263.7,316.6 264.0,315.4 264.2,314.2 264.4,313.1 264.4,312.0 264.1,311.1 263.7,310.3 263.0,309.7 262.2,309.1 261.3,308.7 260.2,308.4 259.1,308.2 257.8,308.2 256.4,308.2 254.8,308.2 253.2,308.4 251.5,308.6 249.8,308.8 248.2,309.1 246.5,309.3 244.8,309.6 243.2,309.8 241.5,310.1 239.8,310.3 238.2,310.6 236.8,311.0 235.3,311.4 234.0,311.9 232.8,312.5 231.7,313.2 230.8,313.9 229.9,314.8 229.2,315.6 228.6,316.5 228.2,317.5 227.8,318.5 227.5,319.5 227.2,320.5 227.0,321.5 226.8,322.5 226.6,323.5Z" fill="#78C8F0" fill-rule="evenodd"/>
<path d="M245.0,160.8 245.1,161.8 245.3,162.7 245.5,163.5 245.7,164.2 246.0,164.8 246.3,165.2 246.6,165.4 246.9,165.3 247.2,165.1 247.6,164.7 247.8,164.1 248.1,163.4 248.4,162.6 248.6,161.7 248.8,160.7 248.9,159.6 249.0,158.4 248.9,157.4 248.8,156.6 248.7,155.9 248.4,155.4 248.1,155.0 247.7,154.8 247.2,154.7 246.8,154.7 246.3,154.8 245.9,154.9 245.7,155.2 245.4,155.5 245.2,156.0 245.1,156.5 245.0,157.2 244.9,158.1 244.9,159.0 244.9,159.9 245.0,160.8ZM243.1,192.1 243.3,192.7 243.5,193.0 243.8,193.1 244.1,192.9 244.3,192.5 244.5,192.0 244.6,191.2 244.7,190.2 244.7,189.2 244.7,188.4 244.6,187.6 244.5,186.8 244.3,186.3 244.1,186.1 243.8,186.1 243.4,186.3 243.2,186.7 243.0,187.2 242.9,187.9 242.8,188.8 242.9,189.6 242.9,190.4 243.0,191.2 243.1,192.1ZM243.8,204.8 243.4,203.8 243.0,202.8 242.6,202.0 242.1,201.2 241.5,200.6 240.9,200.1 240.3,199.8 239.8,199.7 239.2,199.8 238.8,200.2 238.2,200.6 237.6,201.1 236.8,201.7 236.1,202.3 235.4,203.0 234.8,203.8 234.2,204.6 233.8,205.4 233.3,207.1 233.0,209.7 233.0,210.0 231.5,210.0 231.4,210.9 231.3,213.6 231.2,215.5 231.1,216.5 231.1,217.5 231.2,218.5 231.3,219.5 231.6,220.5 231.9,221.5 232.2,222.5 232.5,223.5 232.8,224.5 233.1,225.5 233.4,226.5 233.6,227.5 233.8,228.5 233.8,229.5 233.8,230.5 233.8,231.5 233.6,232.5 233.4,233.5 233.1,234.5 232.8,235.5 232.5,236.5 232.2,237.5 231.9,238.5 231.6,239.5 231.3,240.5 231.2,241.5 231.1,242.5 231.1,243.5 231.2,244.5 231.4,245.5 231.7,246.4 232.1,247.2 232.6,248.1 233.1,248.9 233.7,249.8 234.3,250.6 235.0,251.4 235.7,252.2 236.3,253.1 237.0,253.9 237.7,254.8 238.3,255.6 238.9,256.4 239.4,257.2 239.9,258.1 240.3,258.9 240.7,259.8 240.9,260.6 241.1,261.4 241.1,262.2 241.0,263.1 240.8,263.9 240.5,264.8 240.1,265.6 239.6,266.4 239.0,267.2 238.3,268.1 237.6,268.9 236.9,269.8 236.1,270.6 235.2,271.4 234.4,272.2 233.6,273.1 232.8,273.9 231.9,274.8 231.1,275.6 230.2,276.4 229.4,277.2 228.6,278.1 227.9,278.9 227.3,279.8 226.8,280.6 226.5,281.4 226.3,282.2 226.2,283.1 226.2,283.9 226.2,284.8 226.3,286.5 226.2,289.2 226.1,290.0 228.4,290.0 228.4,290.2 229.2,292.7 230.2,294.2 231.2,294.8 232.2,295.2 233.3,295.4 234.4,295.5 235.6,295.4 236.7,295.3 237.8,295.0 238.8,294.6 239.8,294.1 240.8,293.5 241.6,293.0 242.3,292.3 243.0,291.7 243.5,290.2 243.6,290.0 250.5,290.0 250.6,289.1 250.8,286.4 250.9,284.5 251.1,283.5 251.3,282.5 251.5,281.5 251.8,280.5 252.2,279.5 252.5,278.5 252.8,277.5 253.2,276.5 253.5,275.5 253.8,274.5 254.0,273.5 254.2,272.5 254.4,271.5 254.6,270.5 254.7,269.5 254.8,268.5 254.8,267.5 254.9,266.5 255.0,265.5 255.1,264.5 255.2,263.5 255.3,262.5 255.4,261.5 255.5,260.5 255.6,259.5 255.7,258.5 255.7,257.5 255.7,256.5 255.7,255.5 255.7,254.5 255.7,253.5 255.6,252.5 255.5,251.5 255.4,250.5 255.2,249.5 255.1,248.5 254.9,247.5 254.8,246.5 254.6,245.5 254.4,244.5 254.2,243.5 254.0,242.5 253.8,241.5 253.5,240.5 253.2,239.5 252.8,238.5 252.5,237.5 252.2,236.5 251.8,235.5 251.5,234.5 251.2,233.5 250.8,232.5 250.5,231.5 250.2,230.5 249.8,229.5 249.5,228.5 249.2,227.5 248.8,226.5 248.5,225.5 248.2,224.5 247.8,223.5 247.5,222.5 247.2,221.5 246.8,220.5 246.5,219.5 246.2,218.5 246.0,217.5 245.8,216.5 245.6,215.5 245.5,213.6 245.5,210.9 245.5,210.0 245.2,210.0 245.1,209.0 244.8,207.4 244.5,206.6 244.2,205.7 243.8,204.8ZM206.6,322.1 206.9,322.7 207.3,323.1 207.8,323.2 208.4,323.2 209.0,322.9 209.6,322.6 210.2,322.1 210.8,321.4 211.4,320.7 211.9,320.0 212.3,319.2 212.7,318.5 213.1,317.7 213.4,316.9 213.6,316.1 213.8,315.2 213.8,314.5 213.7,313.8 213.5,313.2 213.2,312.8 212.7,312.4 212.1,312.2 211.4,312.1 210.6,312.2 209.8,312.5 209.0,312.8 208.3,313.2 207.7,313.8 207.1,314.6 206.7,315.5 206.4,316.7 206.2,318.0 206.2,319.2 206.2,320.3 206.3,321.2 206.6,322.1ZM235.1,326.6 235.0,327.6 235.0,328.6 234.9,329.8 234.9,330.9 234.9,332.1 234.8,333.2 234.6,334.4 234.3,335.6 234.1,336.8 233.8,337.9 233.5,339.1 233.2,340.2 232.9,341.4 232.6,342.6 232.4,343.8 232.2,344.9 232.2,346.1 232.3,347.2 232.5,348.4 232.8,349.6 233.3,350.7 233.9,351.7 234.6,352.6 235.4,353.4 236.3,354.1 237.3,354.8 238.4,355.3 239.6,355.8 240.8,356.1 242.0,356.3 243.3,356.4 244.7,356.4 246.0,356.4 247.3,356.2 248.7,356.1 250.0,355.9 251.3,355.7 252.5,355.4 253.8,355.1 254.9,354.8 256.0,354.4 256.9,353.9 257.8,353.4 258.6,352.9 259.2,352.2 259.6,351.5 259.8,350.8 259.9,349.9 259.7,349.1 259.4,348.4 258.8,347.7 257.9,347.0 257.0,346.4 256.0,345.9 254.9,345.4 253.8,345.0 252.6,344.6 251.4,344.2 250.2,343.8 249.1,343.3 248.0,342.8 247.1,342.3 246.3,341.7 245.7,341.0 245.2,340.3 245.0,339.5 244.9,338.8 245.1,337.9 245.4,337.0 245.8,336.1 246.3,335.2 247.0,334.2 247.7,333.1 248.5,332.0 249.2,330.9 250.1,329.8 250.9,328.6 251.6,327.4 252.3,326.2 253.0,325.1 253.6,324.0 254.2,322.9 254.8,321.8 255.2,320.8 255.6,319.9 255.8,319.0 255.8,318.1 255.6,317.2 255.2,316.6 254.6,316.1 253.8,315.8 252.8,315.6 251.7,315.5 250.5,315.6 249.1,315.7 247.6,316.0 246.1,316.3 244.7,316.7 243.3,317.1 242.0,317.6 240.8,318.1 239.7,318.7 238.8,319.4 237.9,320.2 237.2,320.9 236.6,321.7 236.2,322.5 235.8,323.2 235.6,324.1 235.3,324.9 235.2,325.8 235.1,326.6Z" fill="#0AAAFF" fill-rule="evenodd"/>
<path d="M238.4,243.8 238.5,244.3 238.7,244.8 238.9,245.3 239.3,245.7 239.7,246.0 240.2,246.2 240.8,246.4 241.3,246.5 241.9,246.4 242.4,246.3 242.9,246.1 243.4,245.8 243.8,245.4 244.1,244.9 244.3,244.4 244.4,243.9 244.5,243.3 244.4,242.8 244.2,242.2 244.0,241.7 243.7,241.2 243.2,240.8 242.8,240.5 242.2,240.3 241.7,240.2 241.2,240.2 240.6,240.2 240.1,240.4 239.6,240.7 239.2,241.0 238.9,241.4 238.6,241.8 238.5,242.3 238.3,242.8 238.3,243.3 238.4,243.8Z" fill="#3273E6" fill-rule="evenodd"/>
<polygon points="200.0,133.3 197.5,137.5 196.3,141.7 193.3,143.0 188.3,144.7 184.7,145.3 180.0,145.8 177.5,146.7 170.8,147.2 165.0,147.7 162.0,150.8 160.0,155.0 158.7,159.2 159.3,163.3 157.5,168.0 154.2,173.7 151.7,180.0 150.7,185.8 149.7,190.3 145.0,193.7 140.0,194.7 135.8,195.5 133.7,198.7 132.0,203.3 129.7,208.3 126.7,212.5 122.5,215.8 120.3,219.2 119.7,225.0 118.5,230.0 117.3,235.3 116.3,240.7 114.7,244.7 110.7,245.3 106.0,243.3 102.7,246.0 99.3,250.0 97.6,254.7 98.4,259.3 98.7,263.3 96.7,268.0 94.7,272.7 93.3,278.0 93.3,283.3 93.6,290.0 94.0,296.7 94.0,303.3 94.0,309.3 92.7,311.3 89.3,312.7 85.3,314.7 80.0,314.0 74.7,312.7 69.3,311.6 66.0,313.3 64.0,318.0 62.0,323.3 61.3,327.3 64.0,330.0 69.3,331.3 75.3,332.0 80.0,333.3 84.0,336.0 88.0,340.0 91.3,344.7 94.7,349.3 98.7,353.3 102.7,356.7 106.7,360.0 109.3,363.3 111.3,367.3 113.0,371.3 114.7,375.3 116.7,380.7 118.7,386.0 120.7,390.0 122.7,390.0 126.0,394.7 128.7,396.7 133.3,395.3 138.0,395.3 140.0,399.3 140.0,404.7 140.7,410.0 142.0,415.3 144.0,420.0 146.0,423.3 152.0,423.6 160.0,423.8 165.3,424.7 173.3,424.7 177.3,428.0 182.7,432.0 189.3,436.7 196.0,441.3 202.7,446.0 206.0,447.0 213.3,447.0 220.0,447.6 226.7,450.0 233.3,450.7 240.0,452.0 245.3,453.3 248.7,450.0 252.0,444.0 254.7,440.0 260.0,437.3 266.7,434.0 273.3,431.3 280.0,428.8 284.0,432.0 288.0,435.3 290.7,437.3 297.3,437.3 304.0,436.7 310.7,436.0 314.0,434.0 316.0,431.3 320.0,430.7 325.3,430.3 330.7,429.7 336.0,428.7 338.7,426.7 340.7,423.3 342.7,420.7 345.3,418.0 349.3,415.3 354.7,413.3 360.0,412.0 365.3,410.7 370.7,409.7 381.3,410.3 392.0,411.0 398.7,410.7 404.0,405.3 410.7,398.0 417.3,390.7 424.0,383.3 430.7,376.0 436.5,370.0 440.0,366.0 446.7,359.3 453.3,352.7 460.0,346.0 466.7,340.0 473.3,334.0 478.7,328.7 482.7,324.4 466.7,324.4 454.7,324.4 440.5,319.8 434.7,318.0 429.3,316.0 424.0,314.7 413.3,312.0 400.0,308.0 386.7,303.3 373.3,297.3 364.0,290.5 360.7,289.3 357.3,286.0 352.0,279.3 346.7,272.0 341.3,266.0 338.7,263.3 337.3,259.3 336.0,255.3 334.7,251.3 336.0,248.0 338.7,244.7 340.3,241.3 338.7,239.6 333.3,238.7 328.0,238.7 324.0,240.4 314.7,242.3 308.7,242.0 307.3,240.0 308.0,235.3 308.3,228.7 308.3,222.0 310.0,218.7 312.0,216.0 312.7,212.7 315.3,210.5 318.0,210.0 319.3,208.0 322.7,203.3 325.3,198.7 321.3,194.7 316.0,189.3 310.7,183.3 304.0,176.7 297.3,170.0 290.7,163.3 284.0,156.7 280.0,153.5 276.7,152.0 273.3,149.7 269.3,147.0 265.3,144.7 258.7,144.0 253.3,143.3 249.3,140.7 246.0,138.0 242.7,140.0 238.7,144.0 236.0,141.3 233.3,138.7 230.7,138.3 228.7,142.0 226.7,143.0 220.0,142.7 213.3,141.7 208.0,139.0 204.0,136.0" fill="none" stroke="#b4b4b4" stroke-width="0.7" stroke-linejoin="round"/>
<path d="M280.0,136.0 285.3,138.3 290.0,138.7 293.3,141.3 297.3,146.7 301.3,152.0 305.3,158.0 308.7,160.0 312.0,160.0 314.9,163.3 318.0,166.7 321.3,169.3 324.0,174.0 326.0,178.0 330.7,180.7 333.3,182.7 334.7,185.3 338.7,187.6 342.0,188.0 344.0,191.3 346.7,195.3 349.3,199.3 352.0,204.7 353.3,210.0M337.3,130.0 339.3,134.0 341.3,140.7 342.7,147.3 344.0,152.7 346.0,157.3 348.0,162.0 349.3,170.0 349.3,179.3 352.7,184.7 355.3,190.0 356.7,192.0 360.0,192.4M332.4,157.3 333.3,156.3 334.9,156.4 335.7,158.0 334.9,159.6 333.3,159.6 332.4,158.3 332.4,157.3M332.3,166.3 333.6,164.7 335.3,164.4 334.9,165.7 333.3,166.8 332.3,166.3M352.7,210.0 349.3,214.0 344.0,217.3 338.7,220.0 334.0,222.7 330.7,224.9 330.0,226.7 332.7,227.3 336.0,225.3 341.3,224.0 346.7,224.7 350.7,227.3 354.7,231.3 358.0,235.3 360.7,238.0M146.0,450.0 145.3,447.3 143.7,442.0 142.7,436.7 143.3,431.3 144.7,426.7 148.7,426.0 152.0,427.3 154.0,431.3 154.9,436.7 155.7,442.0 156.3,446.0 155.3,450.0M155.3,450.0 154.4,454.0 155.3,459.1M146.0,450.0 147.3,455.3 148.0,459.1M262.5,126.3 266.0,129.0 270.0,131.3 276.0,134.5 280.0,136.0M360.7,238.0 362.5,242.5 367.5,248.8 375.0,253.8 382.5,257.0 391.3,257.0 398.8,256.3 405.0,252.0 412.5,248.8 420.0,245.0 427.5,246.3 435.0,248.8 442.5,249.5 450.0,246.3 457.5,241.3 465.0,238.0 475.0,237.0 485.0,237.5 488.3,237.0M360.0,192.4 364.0,193.6 369.3,194.5 378.7,192.2 388.0,189.8 397.3,186.3 406.7,182.8 413.7,179.3 418.3,175.1 424.0,171.0 440.0,166.0 460.0,161.0 479.0,157.2 488.3,156.7M450.8,459.2 455.0,455.0 459.2,449.2 461.7,445.8 465.8,442.5 470.8,437.5 475.8,431.7 480.8,425.0 485.0,418.3 487.5,412.5 488.3,410.8" fill="none" stroke="#8c8c8c" stroke-width="0.6" stroke-linejoin="round"/>
<path d="M184.4,144.7 187.3,149.3 190.7,154.0 194.0,158.0 196.3,161.3 196.7,164.7 194.9,168.0 193.3,170.0M193.3,170.0 189.3,172.7 185.3,174.7 181.3,176.0 177.3,175.3 174.0,173.3 171.3,172.4 168.0,172.9 164.7,171.3 161.3,169.3 159.7,167.6M160.7,169.3 160.0,172.7 162.7,174.7 166.0,176.0 168.0,178.7 170.0,181.3 169.6,184.7 168.0,186.7 168.7,189.3 172.0,190.0 174.7,190.7 173.3,193.3 171.3,194.0 171.3,196.7 169.3,198.0 166.7,200.7 164.0,202.0 161.3,203.3 159.3,206.0 158.0,210.0M193.3,170.0 200.0,168.4M193.3,170.0 190.0,172.7 188.7,176.7 189.3,180.7 188.3,183.3 191.3,186.0 195.3,187.6 200.0,189.3M214.9,143.1 215.7,147.3 216.7,151.3 216.3,155.3 217.3,159.3 219.3,163.3 220.0,167.3 221.3,170.7 223.3,173.3 226.0,175.3 228.7,176.0M200.0,168.9 206.7,168.7 213.3,169.1 217.3,170.0 220.9,170.3M236.0,141.7 235.7,146.0 236.3,151.3 236.0,156.7 235.7,161.3 233.3,162.7 231.7,164.9 230.0,167.3 230.9,170.0 233.3,171.3 232.7,174.0 230.0,175.3 228.7,176.0M231.7,164.9 234.9,166.0 238.0,165.7 240.0,167.3 238.7,170.0 236.0,170.7 233.3,171.3M228.7,176.0 230.7,180.0 233.3,183.3 236.0,185.3 237.3,183.3 240.0,182.0 242.7,182.7 245.3,184.0 248.0,183.3 251.3,184.7 253.3,186.7 254.4,190.0 254.0,194.0 254.9,196.7M254.0,144.4 254.7,150.0 255.1,156.7 254.4,163.3 254.0,170.0 253.6,176.7 254.0,183.3 254.4,190.0M254.9,196.7 258.7,195.3 261.3,192.7 262.7,188.7 266.7,187.3 270.7,186.0 272.0,182.7 274.0,184.7 276.7,187.3 280.0,188.7M254.9,196.7 255.3,202.0 254.7,206.7 253.3,210.0M228.7,176.0 226.7,179.3 224.0,182.7 220.0,184.7 217.3,183.3 214.7,186.0 212.7,189.3 212.0,192.7 213.3,196.7 211.3,199.3 208.0,201.3 204.0,202.7 200.0,204.0M213.3,196.7 215.3,202.0 216.7,206.7 218.7,210.0M236.0,185.3 235.3,190.0 234.9,194.0 234.0,199.3 232.0,203.3 230.0,206.7 228.7,210.0M235.3,194.0 238.7,196.7 242.7,199.3 246.7,202.0 250.7,203.3 254.9,199.3M276.7,187.3 277.3,192.7 276.0,198.0 276.7,203.3 278.7,210.0M280.0,188.7 284.0,189.7 288.0,191.6 292.0,192.7 296.0,194.7 298.7,195.1 300.0,191.3 303.3,189.3 307.3,188.7 311.3,189.3 314.7,190.0 317.3,190.7M283.3,190.0 282.9,195.3 281.3,198.7 280.0,200.0M126.0,219.6 132.0,218.3 137.3,216.4 141.3,213.3 144.7,212.0 147.3,214.7 149.3,218.7 152.0,219.6 154.9,217.3 156.0,214.0 155.3,210.0M155.7,210.0 156.3,214.0 158.0,218.0 160.0,222.0 161.3,226.0 162.4,230.0 160.0,233.3 157.1,237.3 154.9,242.0 154.3,246.7 154.9,250.0 153.6,252.7 155.3,255.3 158.7,256.0M162.4,230.0 165.3,227.3 168.7,224.7 171.3,222.0 170.7,218.0 172.7,215.3 176.0,216.0 178.7,214.0 180.0,210.0M158.7,256.0 160.7,254.7 164.0,252.7 167.3,250.7 170.7,249.3 174.0,248.0 176.7,246.0 178.7,243.3 178.0,240.0M160.7,254.7 164.0,256.0 168.0,257.3 172.0,258.0 176.0,258.7 180.0,257.3 182.7,255.3 185.3,254.0 189.3,253.3 192.7,254.0 196.7,252.9 200.0,253.7M158.7,256.0 157.3,259.3 154.9,262.7 152.0,265.3 148.7,266.7 146.0,266.0 144.0,268.7 145.3,272.0 148.0,272.7 149.3,276.0 150.7,279.3 151.3,282.7 152.0,286.7 152.7,290.0M120.0,234.0 121.6,238.7 122.7,244.7 122.4,250.0 122.9,255.3 123.7,260.7 125.3,265.3 127.3,268.7 129.3,272.0 128.3,274.7 130.0,277.3 132.7,279.3M169.3,258.0 170.0,263.3 170.7,268.7 170.4,274.0 168.7,276.7 166.0,278.0 164.7,281.3 166.0,284.7 168.0,287.3 170.0,290.0M180.0,257.3 179.3,261.3 180.7,264.7 184.0,266.7 187.3,268.7 190.7,270.7 192.7,274.0 192.0,278.0 194.7,280.7 197.3,284.7 200.0,286.0M173.3,210.0 174.0,214.0 177.3,216.0 180.7,215.3 182.7,212.7 185.3,210.0M189.3,224.7 190.7,227.3 192.7,230.0 194.0,234.0 196.0,236.7 198.7,238.0 200.0,238.7M218.7,210.0 219.3,214.0 220.0,218.0 220.7,222.7 221.3,227.3 220.0,230.0 218.0,232.7 216.0,236.0 213.3,237.3 208.0,236.0 202.7,234.7 200.0,234.0M221.3,227.3 226.0,228.7 230.0,227.3 231.3,224.7 233.3,222.0 236.7,220.0 240.0,218.3 242.7,217.3 242.0,220.7 244.7,222.0 246.0,219.3M246.0,223.3 248.0,224.9 251.3,226.7 254.0,226.0 256.0,223.3 258.7,221.3 259.3,218.0 258.7,214.0 257.3,210.0M216.0,236.0 215.7,240.7 216.3,245.3 215.7,250.0 215.3,254.7 216.0,258.7 214.7,262.7 211.3,264.7 208.0,266.7 204.0,268.7 200.0,270.7M259.3,242.3 256.0,242.0 253.3,242.7 251.3,242.0 251.3,244.0 249.3,246.7 246.7,248.0 244.0,249.3 243.3,253.3 242.0,257.3 239.3,260.7 236.7,262.0 234.9,260.7 232.7,258.0 230.0,258.7 226.7,258.0 224.7,258.7 224.7,262.7 223.3,265.3 221.3,267.3 224.7,268.7 226.7,270.7 226.0,274.0M253.3,210.0 254.0,215.3 256.0,220.0 257.3,224.7 259.3,228.7 261.3,232.7 262.7,236.7 262.9,242.0 262.0,247.3 262.7,252.7 262.4,258.0 258.7,260.7 256.7,264.7 258.7,268.7 260.7,271.3 259.3,275.3 256.7,276.7 254.7,279.3 253.3,284.7 254.0,290.0M264.0,235.3 268.0,236.0 270.7,238.7 274.7,237.3 278.0,236.7 280.0,234.0M270.7,238.7 271.3,243.3 272.7,248.7 273.3,254.0 274.0,259.3M266.7,288.7 267.3,282.0 268.0,276.7 268.7,270.0 269.3,263.3 270.0,260.7 274.0,259.3 277.3,258.7 280.0,258.0M260.0,223.3 264.0,222.7 266.7,219.3 270.7,216.7 274.7,214.7 277.3,211.3 278.7,210.0M200.0,276.7 202.7,278.0 206.0,276.7 208.0,277.3M239.3,274.0 238.7,278.0 240.0,282.0 239.3,286.0 240.7,290.0M280.0,235.3 284.0,234.0 287.3,231.3 290.7,230.0 293.3,228.0 294.0,224.0 296.0,223.3 298.0,226.0 298.7,230.0 299.7,235.3 300.7,241.3M307.3,240.9 300.7,241.3 294.7,241.7 291.3,244.7 289.3,248.7 288.3,254.0 287.3,259.3 286.0,264.7 284.0,270.0 281.3,274.0 280.0,276.0M280.0,258.7 283.3,259.6 286.4,260.7M280.0,284.0 284.0,283.3 288.0,282.7 293.3,283.1 298.7,282.7 305.3,282.0 310.7,280.7 314.0,280.0M314.0,278.0 318.0,276.0 321.3,275.1 325.3,276.0 328.0,277.3 326.0,279.3 322.7,280.0 318.7,280.7 316.0,282.0 314.0,280.0 314.0,278.0M292.0,284.0 293.3,288.0 292.7,290.0M320.0,282.0 318.7,285.3 316.0,286.7 312.0,286.3 310.0,288.0 308.7,290.0M337.3,268.7 336.7,272.7 334.7,276.0 338.7,278.0 342.0,279.3 340.7,281.3 337.3,280.7 334.0,282.7 331.3,284.7 330.7,288.7 330.0,290.0M328.0,277.3 331.3,276.0 334.7,276.0M148.0,290.0 148.7,295.3 152.0,298.0 154.9,302.0 157.3,305.3 160.0,308.0 164.0,310.0 166.7,312.0 167.3,316.7 166.7,321.3 164.0,323.3 161.3,322.7M152.0,298.0 148.7,300.0 145.3,301.3 142.7,303.3 138.7,304.0 134.7,302.7 130.7,303.3 128.0,300.7 124.0,298.0 120.0,296.7M142.7,303.3 144.0,307.3 146.0,311.3 148.0,314.7 150.0,317.3 153.3,318.7 156.7,320.0 159.3,322.0 161.3,322.7M148.0,314.7 145.3,318.7 142.7,322.7 140.0,325.3 141.3,328.7 144.0,331.3 146.7,334.7 150.7,336.7 154.7,338.7 158.7,340.7 162.7,342.0 166.7,343.3 170.0,344.7 172.0,343.3M140.0,325.3 136.0,327.3 132.0,329.3 128.0,330.0 124.0,332.7 121.3,336.0 122.7,340.0 125.3,343.3 129.3,344.7 133.3,346.0 137.3,346.7 141.3,349.3 145.3,350.0 146.7,354.0 147.3,359.3 148.7,364.7 150.7,370.0M166.7,312.0 170.7,308.7 174.0,304.7 176.0,301.3 178.7,299.3 180.7,302.7 182.7,306.7 185.3,310.0 186.7,314.0 189.3,316.7 192.0,318.0 194.7,315.3 197.3,316.7 200.0,315.3M186.7,314.0 186.0,319.3 184.7,324.7 184.0,330.0 185.3,335.3 186.0,340.7 184.0,343.3 180.0,344.7 176.0,345.3 172.0,343.3 169.3,347.3 166.7,351.3 164.0,355.3 160.0,356.7 156.0,356.0 155.3,360.7 156.0,364.7 154.7,370.0M166.7,351.3 170.7,353.3 174.7,355.3 178.7,356.7 182.7,356.0 186.0,354.0 189.3,352.7 192.0,350.0 194.7,348.7M186.0,340.7 189.3,343.3 192.0,346.0 194.7,348.7 197.3,349.3 200.0,348.7M189.3,316.7 190.0,322.0 189.3,327.3 190.7,332.7 190.0,338.0 189.3,343.3M178.7,356.7 179.3,362.0 178.0,366.0 178.7,370.0M120.0,307.3 122.7,310.0 122.0,315.3 123.3,320.7 121.3,324.7 122.7,330.0 121.3,336.0M228.8,296.0 228.1,298.5 226.3,300.4 223.7,301.1 221.2,300.4 219.3,298.5 218.7,296.0 219.3,293.5 221.2,291.6 223.7,290.9 226.3,291.6 228.1,293.5 228.8,296.0M217.3,290.0 216.7,294.0 218.7,300.0 222.0,303.3 226.7,304.7 230.7,307.3 233.3,310.0 236.0,312.7 233.3,316.0 230.0,318.7 226.7,322.0 224.0,326.0 221.3,329.3 218.7,332.0 215.3,334.7 212.7,336.7 209.3,338.7 205.3,342.0 202.0,345.3 200.0,347.3M236.0,312.7 238.0,307.3 240.0,303.3 242.7,301.3 246.7,302.0 250.7,303.3 253.3,302.0 256.0,303.3 260.0,302.7 262.7,300.7 266.7,299.3 269.3,296.7 272.0,294.0 273.3,290.0M236.0,312.7 240.0,311.3 244.0,310.7M224.0,326.0 226.0,330.0 226.7,334.0 227.3,338.0 226.0,342.7 228.0,344.7 232.0,343.3 235.3,342.7 238.7,344.7 241.3,346.0 244.0,343.3 246.0,340.7 250.0,339.3 254.7,338.7 258.7,338.0 262.7,338.7 266.7,340.7 268.0,338.0 270.7,336.0 274.7,334.0 278.7,331.3 280.0,330.0M244.0,343.3 246.7,346.0 249.3,350.0 250.7,354.0 249.3,356.7 247.3,358.7 247.3,362.0 244.0,364.7 241.3,367.3 239.3,370.0M266.7,340.7 267.3,344.7 269.3,347.3 272.7,348.7M205.3,342.0 208.0,346.0 212.0,348.0 216.0,349.3 220.0,350.7 221.3,355.3 220.0,359.3 221.3,363.3 225.3,364.7 226.7,367.3 226.0,370.0M265.3,307.3 266.7,312.0 269.3,315.3 268.0,319.3 269.3,323.3 273.3,326.0 276.0,328.7 280.0,330.0M276.0,362.0 277.3,364.7 276.7,368.7 280.0,370.0M200.0,300.0 204.0,298.7 208.0,300.0 212.0,298.7 216.0,301.3 218.7,300.0M200.0,307.3 204.0,306.0 208.0,308.7 213.3,310.0 217.3,312.7 221.3,314.0 224.7,311.3 226.7,308.7 226.7,304.7M200.0,322.0 204.0,320.7 208.0,323.3 213.3,322.0 217.3,318.0 221.3,314.0M200.0,332.7 204.0,330.0 208.0,331.3 212.0,328.7 215.3,334.7M204.0,306.0 205.3,311.3 204.0,316.7 206.0,322.0M208.0,323.3 206.7,328.7 208.0,331.3M292.7,290.0 293.3,295.3 292.7,300.7 293.3,306.0 294.7,311.3 297.3,315.3 300.0,319.3 301.3,323.3 302.7,328.7 305.3,332.7 308.0,335.3 310.7,337.3M280.0,326.0 284.0,325.3 288.0,324.0 292.0,322.0 296.0,320.0 300.0,319.3M310.7,337.3 312.0,332.7 312.7,327.3 312.0,322.0 313.3,316.7 315.3,312.0 318.0,308.7 320.7,306.7 322.7,308.0 324.7,310.0 327.3,310.7 329.3,313.3 330.7,316.7 332.0,320.7 333.3,324.0M330.7,290.0 332.0,294.0 334.7,298.0 337.3,302.0 339.3,306.0 340.0,310.0 338.7,314.0 336.0,317.3 334.0,321.3 333.3,324.0M333.3,324.0 336.0,319.3 338.7,315.3 342.0,312.7 345.3,311.3 348.0,310.0 349.3,306.0 350.7,302.0 353.3,299.3 357.3,302.0 360.0,304.7M333.3,324.0 334.7,328.7 334.0,333.3 331.3,336.0 330.0,337.3 332.0,338.7 330.0,340.7 326.0,342.0 322.7,343.3 320.0,344.7 316.7,343.3 313.3,341.3 310.7,337.3M333.3,324.0 337.3,327.3 341.3,330.0 346.7,332.7 352.0,335.3 356.0,338.0 357.3,342.0 360.0,343.3M320.0,344.7 321.3,348.0 320.0,351.3 318.0,354.7 316.0,358.0 314.7,362.0 314.0,366.0 313.3,370.0M318.0,354.7 322.7,354.0 326.7,354.7 330.7,356.7 334.7,359.3 337.3,362.7 338.0,366.7 338.7,370.0M348.0,370.0 347.3,364.7 348.0,359.3 352.0,358.0 356.0,359.3 360.0,360.0M280.0,370.0 282.7,366.0 285.3,362.7 289.3,361.3 293.3,363.3 296.7,366.7 301.3,368.0 305.3,367.3 309.3,365.3 313.3,366.0M144.7,370.0 145.3,375.3 144.7,380.7 143.3,386.0 140.7,390.0 139.3,393.3 138.7,396.7M155.3,370.0 155.7,375.3 154.9,380.7 154.0,386.0 153.3,390.0M174.7,390.0 175.3,394.0 174.9,398.7 174.0,402.7 171.3,404.7 170.4,408.7 170.7,413.3 169.6,416.7 165.3,417.3 164.7,420.7 165.3,424.7M164.7,417.3 168.7,417.3 168.7,421.3 164.7,421.3M166.7,370.0 165.3,375.3 167.3,379.3 165.3,383.3 164.0,387.3 160.0,388.7 156.0,387.3 155.3,383.3M174.7,390.0 177.3,387.3 178.7,383.3 182.7,384.7 186.7,383.3 189.3,386.0 192.7,384.7 194.7,387.3 197.3,386.0 200.0,383.3M174.7,390.0 174.7,382.0 173.3,378.0 174.7,374.0 173.3,370.0M178.7,383.3 180.0,379.3 182.7,376.7 186.7,378.0 190.7,375.3 194.7,376.7 197.3,374.0M189.3,386.0 190.7,391.3 189.3,395.3 192.0,398.0 196.0,396.7 200.0,394.0M174.9,398.7 178.7,400.0 182.7,400.7 186.7,401.3 190.7,400.0 192.7,398.0M182.7,384.7 182.0,388.7 184.0,392.0 182.7,395.3 184.0,398.0M238.7,370.0 239.3,375.3 241.3,380.7 242.7,386.0 240.0,388.7 238.7,392.7 236.7,396.7 236.0,401.3 234.9,405.3 233.3,407.3 230.0,406.0 227.3,404.7 225.3,406.7 222.0,405.3 218.7,406.7 215.3,407.3 214.7,411.3 214.4,416.7 214.0,422.0 213.3,427.3 214.7,431.3 218.7,432.7 222.7,435.3 226.7,436.0 230.7,434.7 234.7,434.0 238.7,432.7 242.7,431.3 245.3,428.7 247.3,423.3 249.3,418.0 251.3,412.7 252.7,407.3 254.7,403.3 257.3,399.3 261.3,397.3 266.7,396.0 272.0,394.0 276.0,391.3 280.0,389.3M251.3,416.0 256.0,414.7 261.3,413.3 266.7,414.0 272.0,416.7 276.0,419.3 280.0,420.7M245.3,428.7 244.0,435.3 242.7,440.7 240.0,446.0 238.7,450.0M240.0,374.0 245.3,376.0 250.7,374.7 253.3,376.7 254.7,380.7 258.7,383.3 264.0,384.7 269.3,385.3 274.7,384.7 280.0,383.3M222.0,405.3 223.3,400.7 222.7,395.3 220.0,391.3 217.3,387.3 213.3,384.7 210.7,380.7 208.0,378.0 205.3,375.3 202.7,372.7M225.3,406.7 224.7,402.0 223.7,396.7M200.0,398.7 203.3,401.3 206.7,403.3 210.7,404.0 215.3,407.3M217.3,387.3 220.0,384.7 222.0,380.7 224.0,376.7 225.3,372.7 226.0,370.0M200.0,390.0 204.0,388.7 208.0,386.0 210.7,380.7M300.0,370.0 301.3,375.3 302.7,380.7 303.7,384.0 302.0,386.0 298.7,388.0 295.3,389.3 292.0,390.0 291.3,393.3 292.7,397.3 295.3,402.0 298.0,406.7 300.7,410.7 302.7,414.7 305.3,418.7 308.7,422.7 312.0,426.7 315.3,429.3 316.7,430.7M321.3,370.0 325.3,372.0 330.7,373.3 336.0,374.7 339.3,378.0 337.3,382.0 339.3,385.3 342.7,388.0 346.7,391.3 349.3,395.3 350.7,399.3 352.0,404.0 354.0,408.7 356.0,412.0M340.7,370.0 341.3,372.0 346.7,372.0 352.0,371.3 353.3,370.0M360.0,306.7 364.0,308.0 369.3,310.0 372.0,307.3 374.7,303.3 374.0,298.7M360.0,343.3 362.7,340.0 366.7,337.3 372.0,336.0 375.3,338.0 378.0,341.3 381.3,344.0 384.7,340.7 387.3,336.0 390.7,332.0 394.7,331.3 398.0,331.6 402.7,332.7 408.0,334.0 413.3,334.3 416.0,334.0 418.7,330.0 422.7,326.0 426.0,322.0 428.0,318.7 429.3,316.0M398.0,331.6 396.7,335.3 394.0,338.7 392.7,342.7 396.0,346.0 395.3,349.3 394.0,352.7 393.3,356.7 394.0,362.0 394.4,367.3 394.7,370.0M394.4,366.7 398.7,367.3 404.0,368.7 406.7,370.0M360.0,343.3 360.7,348.7 361.1,354.0 360.0,356.7 362.7,362.0 362.0,366.0 364.7,370.0M394.0,363.3 394.9,366.0 400.0,367.3 405.3,369.3 408.7,372.0 413.3,372.7 418.7,375.3 423.3,378.0 426.7,379.3M360.7,371.3 362.7,367.3 363.3,366.0 366.7,368.7 370.7,372.7 374.7,376.7 376.0,380.7 375.7,386.0 376.7,389.3 381.3,391.3 385.3,394.7 389.3,395.3 393.3,394.7 398.7,396.0 404.0,397.3 408.0,397.3M118.7,232.7 122.0,235.3 122.7,240.7 121.3,246.0 122.7,251.3 124.0,256.0 125.3,260.7 126.7,264.0 130.7,265.3 134.7,266.7 138.7,268.7M119.3,234.0 118.7,239.3 119.3,244.7 120.0,250.0 122.0,255.3M95.3,275.3 100.0,276.0 104.0,278.0 107.3,276.7 111.3,274.0 114.0,270.7 117.3,268.0 119.3,269.3 122.7,271.3 126.7,272.7 129.3,276.0 133.3,278.7 136.0,282.7 138.0,286.7 140.0,288.7M114.0,270.7 114.7,275.3 113.3,279.3 112.7,283.3 113.3,287.3 111.3,290.7 107.3,292.0 104.0,294.0 101.3,292.7 100.0,289.3M104.0,278.0 103.3,282.7 104.7,286.0M113.3,287.3 117.3,288.7 120.7,292.0 123.3,295.3 126.7,297.3 129.3,300.7 132.0,303.3 136.0,304.7 140.0,304.0M94.0,297.3 98.7,297.3 102.7,296.7 104.0,294.0M129.3,300.7 128.0,304.7 125.3,307.3 122.7,310.0M75.0,316.7 74.3,321.3 75.0,326.0 73.7,330.7M88.3,314.0 91.0,317.3 93.7,321.3 97.7,323.3 101.0,322.0 101.7,318.0 99.7,314.7 96.3,312.7 92.3,312.0 88.3,314.0 85.7,318.7 82.3,320.0M95.0,302.7 97.7,306.7 101.7,310.7 106.3,313.3 111.0,314.7 113.7,317.3 115.7,322.0 115.0,326.7 116.3,331.3 117.7,336.0 117.0,340.0 116.3,344.0 115.0,346.7 115.7,350.7 118.3,353.3 121.7,354.7M117.0,340.0 121.0,341.3 124.3,342.7 125.0,346.0 123.0,349.3 124.3,352.7M115.7,350.7 113.7,354.7 115.0,358.7 119.0,361.3 123.0,363.3 124.3,368.0 123.7,372.0 125.0,376.7M113.7,317.3 117.7,316.0 120.3,312.0 121.7,308.0 124.3,305.3 123.0,301.3M121.7,330.7 125.7,328.7 129.7,327.3 133.7,328.7 135.0,332.0M124.3,342.7 128.3,340.0 131.7,337.3 135.0,338.7M183.0,305.0 185.0,309.0 186.0,313.0 187.5,316.0 190.0,317.5 193.5,318.0 196.0,316.5 199.0,315.5 200.0,314.5M186.0,313.0 185.5,318.0 186.5,323.0 185.0,327.0 186.0,331.0 187.5,335.0 188.0,339.0 189.0,343.0 190.0,345.0M190.0,345.0 187.0,346.0 184.0,345.0 180.0,344.0 176.0,343.0 172.0,344.0 170.0,343.5M190.0,345.0 193.0,348.0 197.0,349.5 201.0,348.0 203.0,345.0 205.0,342.0 204.5,339.5M189.0,343.0 191.0,342.0 194.0,341.0 198.0,340.0 202.0,340.5 204.5,339.5 207.0,337.0 210.0,335.0 213.0,333.0 216.0,330.0 219.0,327.0 222.0,324.0 225.0,321.0 228.0,318.0 230.0,316.0M200.0,314.5 203.0,316.0 205.0,319.0 204.0,323.0 202.0,326.0 200.0,329.0 199.0,332.0 200.5,334.0M205.0,319.0 209.0,320.0 213.0,319.0 216.0,317.0 219.0,315.0 222.0,313.0 224.0,310.0M210.0,335.0 212.0,338.0 215.0,340.0 219.0,339.0 222.0,337.0 224.0,334.0 224.5,330.0 226.0,327.0M204.5,339.5 206.0,344.0 209.0,347.0 213.0,349.0 217.0,350.0 220.0,352.0 222.0,355.0 221.5,359.0 222.0,365.0M190.0,345.0 189.0,349.0 187.5,353.0 186.0,356.0 184.0,358.0 182.0,361.0 181.0,365.0M170.0,354.0 174.0,355.0 178.0,354.5 182.0,355.0 186.0,356.0M224.0,334.0 227.0,335.0 229.0,338.0 228.0,342.0 226.0,345.0M171.5,214.0 173.5,211.0 177.0,208.0 180.0,205.5 184.0,204.5 187.5,205.0 190.0,207.5 190.5,210.0 189.5,213.0 187.5,216.0 185.5,218.5 184.5,220.0M171.5,214.0 172.5,216.5 176.0,216.5 178.5,215.5M190.5,207.5 193.0,205.0 195.0,202.5 198.0,203.5 200.0,205.0 203.0,203.5 206.0,202.0 210.0,200.5M182.3,222.0 182.9,220.4 184.5,219.8 186.1,220.4 186.7,222.0 186.1,223.6 184.5,224.2 182.9,223.6 182.3,222.0M189.2,225.0 190.8,224.8 191.2,226.5 189.8,227.2 189.2,225.0M192.0,228.0 194.0,231.0 197.0,233.5 201.0,235.0 205.0,236.0 210.0,237.0M175.5,239.0 177.0,242.0 175.0,245.0 172.0,247.0 169.0,249.0 165.0,251.0 162.0,253.0 160.0,255.0" fill="none" stroke="#2a2418" stroke-opacity="0.85" stroke-width="0.5" stroke-linejoin="round"/>
<g font-size="5.7" text-anchor="middle" fill="#000"><text x="176.3" y="163.3">Western</text><text x="202.5" y="155.0">N.Western</text><text x="227.3" y="158.7">Cent.T</text><text x="245.8" y="155.6">Eastern</text><text x="243.0" y="171.3">Mekelle</text><text x="241.8" y="178.0">S.Eastern</text><text x="223.3" y="193.0">WagHamra</text><text x="245.3" y="195.3">S.Tigray</text><text x="276.0" y="173.0">Kilbati</text><text x="267.0" y="204.7">Fanti</text><text x="203.0" y="179.0">N.Gondar</text><text x="293.2" y="217.5">Awsi /Zone 1</text><text x="183.0" y="197.0">Gondar</text><text x="150.8" y="199.0">W.Gondar</text><text x="205.0" y="221.0">S.Gondar</text><text x="236.0" y="216.7">N.Wello</text><text x="236.0" y="242.7">South Wello</text><text x="258.2" y="249.3">Oromia</text><text x="265.7" y="258.3">Hari</text><text x="200.0" y="255.5">E.Gojam</text><text x="222.3" y="276.3">NSH(OR)</text><text x="243.0" y="276.3">NSH(AM)</text><text x="309.7" y="263.3">Siti</text><text x="309.9" y="280.7">D.D</text><text x="319.3" y="289.6">Harari</text><text x="223.3" y="298.0">K.A</text><text x="206.5" y="310.7">SW.Shewa</text><text x="234.5" y="313.0">E.Shewa</text><text x="249.9" y="328.4">Arsi</text><text x="279.8" y="307.5">W.Harage</text><text x="203.0" y="322.0">Guraghe</text><text x="207.3" y="331.0">Silti</text><text x="208.3" y="342.0">Hal</text><text x="229.7" y="352.7">W.Arsi</text><text x="216.7" y="364.0">Sidama</text><text x="261.3" y="372.4">Bale</text><text x="348.7" y="294.0">Fafan</text><text x="314.3" y="302.7">E.Hararge</text><text x="322.0" y="330.3">Erer</text><text x="293.3" y="348.0">E.Bale</text><text x="342.3" y="350.7">Nogob</text><text x="209.0" y="378.3">Gedeo</text><text x="209.3" y="389.3">W.Guji</text><text x="235.5" y="394.3">Guji</text><text x="209.3" y="425.7">Borena</text><text x="257.5" y="432.7">Daawa</text><text x="287.0" y="407.6">Liban</text><text x="322.5" y="401.7">Afder</text><text x="360.7" y="388.4">Shabelle</text><text x="139.0" y="241.7">Metekel</text><text x="161.2" y="236.7">Awi</text><text x="178.7" y="239.0">W.Gojam</text><text x="179.5" y="239.3">B.D</text><text x="140.0" y="272.4">Kamashi</text><text x="179.2" y="278.3">Horo</text><text x="163.0" y="286.3">E.Wellega</text><text x="126.0" y="288.5">W.Wellega</text><text x="197.0" y="293.0">W.Shewa</text><text x="131.0" y="318.7">Ilu</text><text x="154.2" y="312.4">B.Bedele</text><text x="169.7" y="328.7">Jimma</text><text x="129.0" y="339.3">Sheka</text><text x="147.7" y="347.7">Kefa</text><text x="187.7" y="331.3">Yem</text><text x="196.0" y="339.6">Had</text><text x="195.5" y="346.0">Kem</text><text x="128.0" y="356.7">Bench Sheko</text><text x="162.3" y="358.0">Konta</text><text x="176.3" y="354.7">Dawuro</text><text x="195.0" y="358.0">Wolayita</text><text x="159.0" y="374.0">Bas</text><text x="168.6" y="372.4">Gofa</text><text x="185.9" y="377.3">Gamo</text><text x="133.0" y="378.0">Mirab Omo</text><text x="197.0" y="388.0">Am</text><text x="156.0" y="400.4">S.Omo</text><text x="184.0" y="400.7">Kon</text><text x="195.5" y="396.0">Bur</text><text x="176.3" y="394.0">Ale</text><text x="109.7" y="263.6">Assosa</text><text x="97.3" y="288.3">M.Komo</text><text x="112.0" y="303.0">K.Wellega</text><text x="74.0" y="321.7">Nuwer</text><text x="95.6" y="316.7">Itang</text><text x="102.3" y="338.7">Agnewak</text><text x="121.0" y="341.3">Maj</text><text x="379.0" y="323.0">Jarar</text><text x="430.0" y="348.0">Doolo</text><text x="388.0" y="369.6">Korahe</text></g>
</g>
<g id="logo"><rect x="420.5" y="148" width="56" height="45.5" fill="#fff"/><path d="M423.7,184.4 A25.7,25.7 0 1 1 472.1,184.4" fill="none" stroke="#2f80e4" stroke-width="1.25"/><path id="lgp" d="M427.5,179.9 A20.9,20.9 0 1 1 468.3,179.9" fill="none"/><text font-size="5" font-weight="bold" style="font-family:'Liberation Sans','DejaVu Sans',sans-serif;fill:#1b3b8f" text-anchor="middle"><textPath href="#lgp" startOffset="50%">የኢትዮጵያ ሜትሮሎጂ ኢንስቲትዩት</textPath></text><circle cx="441.4" cy="161.9" r="2.7" fill="#e8451e"/><circle cx="441.4" cy="162" r="1.9" fill="#ffb020"/><g fill="#1f3f8a"><ellipse cx="448.6" cy="164.6" rx="11.5" ry="2.3"/><ellipse cx="445" cy="163" rx="4.2" ry="2.6"/><ellipse cx="450.5" cy="162.2" rx="5" ry="3"/><ellipse cx="456" cy="163.4" rx="4.2" ry="2.4"/></g><g fill="#3e63b5"><ellipse cx="449" cy="162.4" rx="3" ry="1.2"/><ellipse cx="455" cy="163.6" rx="2.4" ry="0.9"/></g><g fill="#6b7ea8"><circle cx="440.5" cy="168.5" r="0.35"/><circle cx="443.5" cy="168.8" r="0.35"/><circle cx="446.5" cy="168.4" r="0.35"/><circle cx="449.5" cy="168.9" r="0.35"/><circle cx="452.5" cy="168.4" r="0.35"/><circle cx="455.5" cy="168.8" r="0.35"/><circle cx="442" cy="170.6" r="0.35"/><circle cx="445" cy="171" r="0.35"/><circle cx="448" cy="170.6" r="0.35"/><circle cx="451" cy="171" r="0.35"/><circle cx="454" cy="170.5" r="0.35"/><circle cx="444.5" cy="172.8" r="0.35"/><circle cx="447.5" cy="173.2" r="0.35"/><circle cx="450.5" cy="172.7" r="0.35"/><circle cx="447" cy="175" r="0.35"/></g><path d="M424.6,185 L425,180.5 Q429,177.6 433,179.6 Q437,181.2 440,179 Q443.5,175.4 446.3,174.6 Q449.5,176 452.5,178.6 Q457,180.8 461,179.8 Q466,180.6 471,183.6 L471.2,185 Z" fill="#2f9a3c"/><path d="M424.6,185 L424.9,182.4 Q430,180.4 435,182.2 Q441,184 446,181.5 Q452,182.8 458,182.2 Q465,182.6 471.2,184.4 L471.2,185 Z" fill="#1f6f32"/><path d="M440,179 Q443.5,175.4 446.3,174.6 Q448,175.2 449.5,176.4 Q446,177 443.5,179.6 Z" fill="#6cc24a"/><path d="M454.5,179.6 Q451,180 450.5,181 Q452.5,182 449,182.6 Q446.5,183.4 446.2,184.8" fill="none" stroke="#38b6e8" stroke-width="0.8"/><text x="447.9" y="187.6" font-size="2.9" font-weight="bold" text-anchor="middle" id="emi" style="fill:#1b3b8f">Ethiopian Meteorology Institute</text><path d="M426.8,190.2H444.4M451.6,190.2H469.6" stroke="#2f6fd8" stroke-width="0.5"/><path d="M445.6,191.2 L446.6,189 L449.2,189 L450.2,191.2 Z" fill="#8a8f9c"/><circle cx="447.9" cy="189.9" r="0.8" fill="#4a5060"/></g>
<rect x="55.3" y="126.3" width="433.0" height="332.9" fill="none" stroke="#222" stroke-width="0.7"/>
<g stroke="#222" stroke-width="0.7"><line x1="89.5" y1="459.2" x2="89.5" y2="468.4"/><line x1="145.7" y1="459.2" x2="145.7" y2="468.4"/><line x1="201.9" y1="459.2" x2="201.9" y2="468.4"/><line x1="258.1" y1="459.2" x2="258.1" y2="468.4"/><line x1="314.3" y1="459.2" x2="314.3" y2="468.4"/><line x1="370.5" y1="459.2" x2="370.5" y2="468.4"/><line x1="426.7" y1="459.2" x2="426.7" y2="468.4"/><line x1="482.9" y1="459.2" x2="482.9" y2="468.4"/><line x1="46.1" y1="437.0" x2="55.3" y2="437.0"/><line x1="46.1" y1="380.8" x2="55.3" y2="380.8"/><line x1="46.1" y1="324.6" x2="55.3" y2="324.6"/><line x1="46.1" y1="268.4" x2="55.3" y2="268.4"/><line x1="46.1" y1="212.2" x2="55.3" y2="212.2"/><line x1="46.1" y1="156.0" x2="55.3" y2="156.0"/></g>
<g font-size="13" text-anchor="middle"><text x="89.5" y="487">34°E</text><text x="145.7" y="487">36°E</text><text x="201.9" y="487">38°E</text><text x="258.1" y="487">40°E</text><text x="314.3" y="487">42°E</text><text x="370.5" y="487">44°E</text><text x="426.7" y="487">46°E</text><text x="482.9" y="487">48°E</text></g>
<g font-size="13" text-anchor="end"><text x="39.5" y="441.7">4°N</text><text x="39.5" y="385.5">6°N</text><text x="39.5" y="329.3">8°N</text><text x="39.5" y="273.1">10°N</text><text x="39.5" y="216.9">12°N</text><text x="39.5" y="160.7">14°N</text></g>
<text x="53.8" y="121.8" font-size="18.2" font-weight="bold" id="title">Daily maximum temperature (C) for 21-22 Nov 2025</text>
<g stroke="#444" stroke-width="0.4"><rect x="520.2" y="130.80" width="25.4" height="29.43" fill="#FFB5B8"/><rect x="520.2" y="160.23" width="25.4" height="29.43" fill="#CC0000"/><rect x="520.2" y="189.65" width="25.4" height="29.43" fill="#FF3200"/><rect x="520.2" y="219.08" width="25.4" height="29.43" fill="#FF9600"/><rect x="520.2" y="248.51" width="25.4" height="29.43" fill="#FFD228"/><rect x="520.2" y="277.94" width="25.4" height="29.43" fill="#FFFFC8"/><rect x="520.2" y="307.36" width="25.4" height="29.43" fill="#78C8F0"/><rect x="520.2" y="336.79" width="25.4" height="29.43" fill="#0AAAFF"/><rect x="520.2" y="366.22" width="25.4" height="29.43" fill="#3273E6"/><rect x="520.2" y="395.65" width="25.4" height="29.43" fill="#0A14F5"/><rect x="520.2" y="425.07" width="25.4" height="29.43" fill="#8223E6"/></g>
<g font-size="15" text-anchor="middle"><text x="561.5" y="165.7">40</text><text x="561.5" y="195.2">36</text><text x="561.5" y="224.6">32</text><text x="561.5" y="254.0">28</text><text x="561.5" y="283.4">24</text><text x="561.5" y="312.9">20</text><text x="561.5" y="342.3">16</text><text x="561.5" y="371.7">12</text><text x="561.5" y="401.1">8</text><text x="561.5" y="430.6">4</text></g>
</svg></body></html>
